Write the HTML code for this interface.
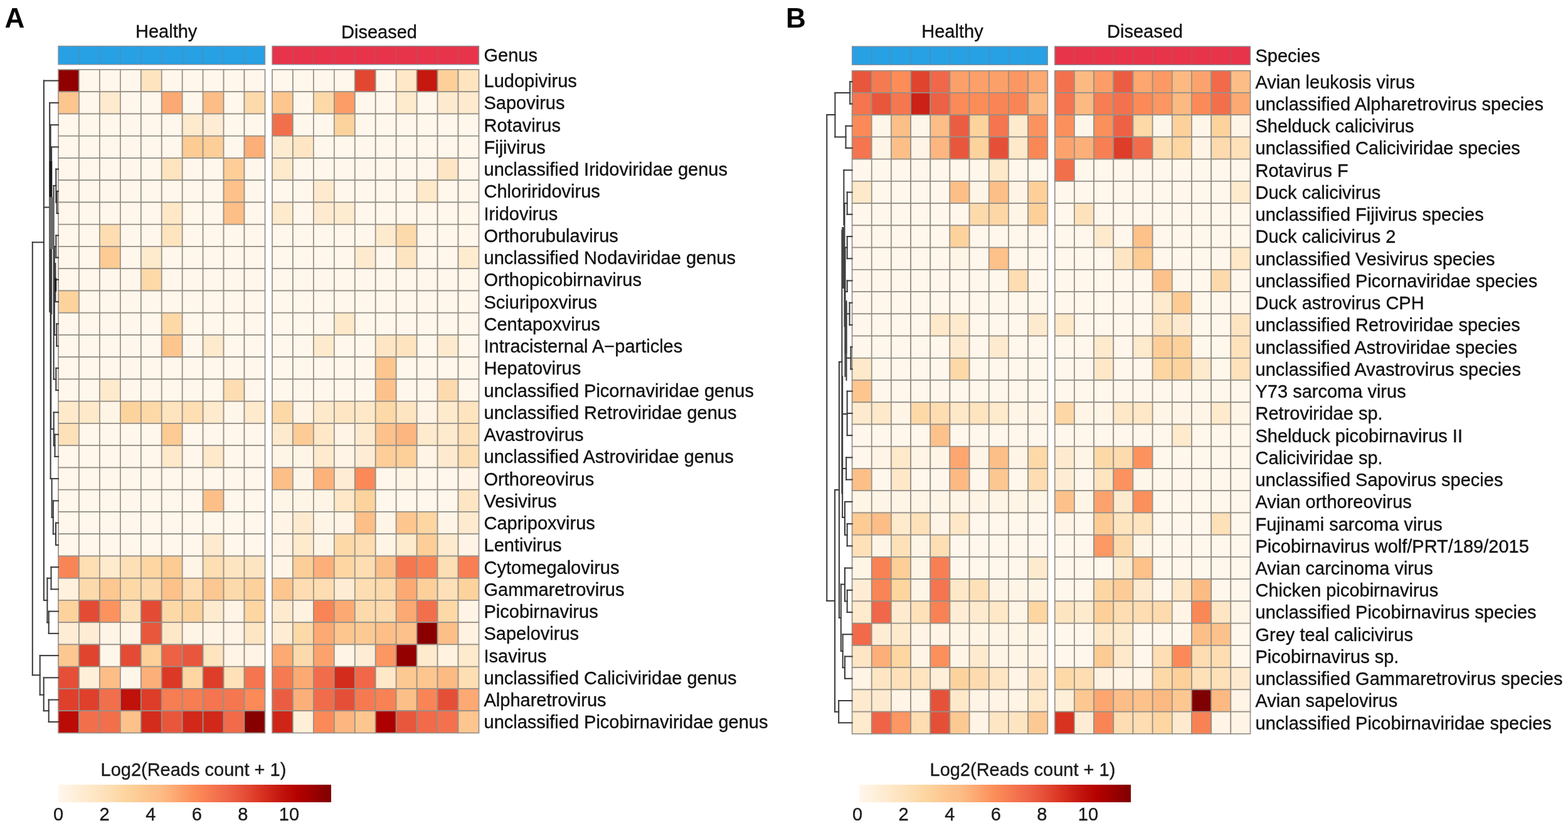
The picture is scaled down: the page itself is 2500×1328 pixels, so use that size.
<!DOCTYPE html>
<html><head><meta charset="utf-8"><title>Heatmaps</title>
<style>html,body{margin:0;padding:0;background:#fff;}svg{display:block;}</style>
</head><body>
<svg width="2500" height="1328" viewBox="0 0 2500 1328">
<rect width="2500" height="1328" fill="#fff"/>
<g stroke="#979088" stroke-width="1.7">
<rect x="93" y="111" width="32.95" height="35.25" fill="#910000"/>
<rect x="125.95" y="111" width="32.95" height="35.25" fill="#fff7ec"/>
<rect x="158.9" y="111" width="32.95" height="35.25" fill="#fff7ec"/>
<rect x="191.85" y="111" width="32.95" height="35.25" fill="#fff7ec"/>
<rect x="224.8" y="111" width="32.95" height="35.25" fill="#fee4bf"/>
<rect x="257.75" y="111" width="32.95" height="35.25" fill="#fff7ec"/>
<rect x="290.7" y="111" width="32.95" height="35.25" fill="#fff7ec"/>
<rect x="323.65" y="111" width="32.95" height="35.25" fill="#fff7ec"/>
<rect x="356.6" y="111" width="32.95" height="35.25" fill="#fff7ec"/>
<rect x="389.55" y="111" width="32.95" height="35.25" fill="#fff7ec"/>
<rect x="434" y="111" width="32.95" height="35.25" fill="#fff7ec"/>
<rect x="466.95" y="111" width="32.95" height="35.25" fill="#fff7ec"/>
<rect x="499.9" y="111" width="32.95" height="35.25" fill="#fff7ec"/>
<rect x="532.85" y="111" width="32.95" height="35.25" fill="#fff7ec"/>
<rect x="565.8" y="111" width="32.95" height="35.25" fill="#e24731"/>
<rect x="598.75" y="111" width="32.95" height="35.25" fill="#fff7ec"/>
<rect x="631.7" y="111" width="32.95" height="35.25" fill="#fee8c7"/>
<rect x="664.65" y="111" width="32.95" height="35.25" fill="#c5180f"/>
<rect x="697.6" y="111" width="32.95" height="35.25" fill="#fdd09a"/>
<rect x="730.55" y="111" width="32.95" height="35.25" fill="#fee4bf"/>
<rect x="93" y="146.25" width="32.95" height="35.25" fill="#fdc68f"/>
<rect x="125.95" y="146.25" width="32.95" height="35.25" fill="#fff7ec"/>
<rect x="158.9" y="146.25" width="32.95" height="35.25" fill="#feebcf"/>
<rect x="191.85" y="146.25" width="32.95" height="35.25" fill="#fff7ec"/>
<rect x="224.8" y="146.25" width="32.95" height="35.25" fill="#fff7ec"/>
<rect x="257.75" y="146.25" width="32.95" height="35.25" fill="#fda973"/>
<rect x="290.7" y="146.25" width="32.95" height="35.25" fill="#fff7ec"/>
<rect x="323.65" y="146.25" width="32.95" height="35.25" fill="#fdbd86"/>
<rect x="356.6" y="146.25" width="32.95" height="35.25" fill="#fff7ec"/>
<rect x="389.55" y="146.25" width="32.95" height="35.25" fill="#fddaab"/>
<rect x="434" y="146.25" width="32.95" height="35.25" fill="#fdc68f"/>
<rect x="466.95" y="146.25" width="32.95" height="35.25" fill="#fff7ec"/>
<rect x="499.9" y="146.25" width="32.95" height="35.25" fill="#fdd9a8"/>
<rect x="532.85" y="146.25" width="32.95" height="35.25" fill="#fc9d68"/>
<rect x="565.8" y="146.25" width="32.95" height="35.25" fill="#fff7ec"/>
<rect x="598.75" y="146.25" width="32.95" height="35.25" fill="#fff7ec"/>
<rect x="631.7" y="146.25" width="32.95" height="35.25" fill="#feeacc"/>
<rect x="664.65" y="146.25" width="32.95" height="35.25" fill="#fff7ec"/>
<rect x="697.6" y="146.25" width="32.95" height="35.25" fill="#feebcf"/>
<rect x="730.55" y="146.25" width="32.95" height="35.25" fill="#feebcf"/>
<rect x="93" y="181.5" width="32.95" height="35.25" fill="#fff7ec"/>
<rect x="125.95" y="181.5" width="32.95" height="35.25" fill="#fff7ec"/>
<rect x="158.9" y="181.5" width="32.95" height="35.25" fill="#fff7ec"/>
<rect x="191.85" y="181.5" width="32.95" height="35.25" fill="#fff7ec"/>
<rect x="224.8" y="181.5" width="32.95" height="35.25" fill="#fff7ec"/>
<rect x="257.75" y="181.5" width="32.95" height="35.25" fill="#fff7ec"/>
<rect x="290.7" y="181.5" width="32.95" height="35.25" fill="#feeacc"/>
<rect x="323.65" y="181.5" width="32.95" height="35.25" fill="#feedd4"/>
<rect x="356.6" y="181.5" width="32.95" height="35.25" fill="#fff7ec"/>
<rect x="389.55" y="181.5" width="32.95" height="35.25" fill="#fff7ec"/>
<rect x="434" y="181.5" width="32.95" height="35.25" fill="#f26f4c"/>
<rect x="466.95" y="181.5" width="32.95" height="35.25" fill="#fff7ec"/>
<rect x="499.9" y="181.5" width="32.95" height="35.25" fill="#fff7ec"/>
<rect x="532.85" y="181.5" width="32.95" height="35.25" fill="#fdd39d"/>
<rect x="565.8" y="181.5" width="32.95" height="35.25" fill="#fff7ec"/>
<rect x="598.75" y="181.5" width="32.95" height="35.25" fill="#fff7ec"/>
<rect x="631.7" y="181.5" width="32.95" height="35.25" fill="#fff7ec"/>
<rect x="664.65" y="181.5" width="32.95" height="35.25" fill="#fff7ec"/>
<rect x="697.6" y="181.5" width="32.95" height="35.25" fill="#fff7ec"/>
<rect x="730.55" y="181.5" width="32.95" height="35.25" fill="#fff7ec"/>
<rect x="93" y="216.75" width="32.95" height="35.25" fill="#fff7ec"/>
<rect x="125.95" y="216.75" width="32.95" height="35.25" fill="#fff7ec"/>
<rect x="158.9" y="216.75" width="32.95" height="35.25" fill="#fff7ec"/>
<rect x="191.85" y="216.75" width="32.95" height="35.25" fill="#fff7ec"/>
<rect x="224.8" y="216.75" width="32.95" height="35.25" fill="#fff7ec"/>
<rect x="257.75" y="216.75" width="32.95" height="35.25" fill="#fff7ec"/>
<rect x="290.7" y="216.75" width="32.95" height="35.25" fill="#fdcb94"/>
<rect x="323.65" y="216.75" width="32.95" height="35.25" fill="#fdce98"/>
<rect x="356.6" y="216.75" width="32.95" height="35.25" fill="#fff7ec"/>
<rect x="389.55" y="216.75" width="32.95" height="35.25" fill="#fdaf79"/>
<rect x="434" y="216.75" width="32.95" height="35.25" fill="#feecd1"/>
<rect x="466.95" y="216.75" width="32.95" height="35.25" fill="#fee6c4"/>
<rect x="499.9" y="216.75" width="32.95" height="35.25" fill="#fff7ec"/>
<rect x="532.85" y="216.75" width="32.95" height="35.25" fill="#fff7ec"/>
<rect x="565.8" y="216.75" width="32.95" height="35.25" fill="#fff7ec"/>
<rect x="598.75" y="216.75" width="32.95" height="35.25" fill="#fff7ec"/>
<rect x="631.7" y="216.75" width="32.95" height="35.25" fill="#fff7ec"/>
<rect x="664.65" y="216.75" width="32.95" height="35.25" fill="#fff7ec"/>
<rect x="697.6" y="216.75" width="32.95" height="35.25" fill="#fff7ec"/>
<rect x="730.55" y="216.75" width="32.95" height="35.25" fill="#fff7ec"/>
<rect x="93" y="252" width="32.95" height="35.25" fill="#fff7ec"/>
<rect x="125.95" y="252" width="32.95" height="35.25" fill="#fff7ec"/>
<rect x="158.9" y="252" width="32.95" height="35.25" fill="#fff7ec"/>
<rect x="191.85" y="252" width="32.95" height="35.25" fill="#fff7ec"/>
<rect x="224.8" y="252" width="32.95" height="35.25" fill="#fff7ec"/>
<rect x="257.75" y="252" width="32.95" height="35.25" fill="#fee4bf"/>
<rect x="290.7" y="252" width="32.95" height="35.25" fill="#fff7ec"/>
<rect x="323.65" y="252" width="32.95" height="35.25" fill="#fff7ec"/>
<rect x="356.6" y="252" width="32.95" height="35.25" fill="#fdce98"/>
<rect x="389.55" y="252" width="32.95" height="35.25" fill="#fff7ec"/>
<rect x="434" y="252" width="32.95" height="35.25" fill="#feeacc"/>
<rect x="466.95" y="252" width="32.95" height="35.25" fill="#fff7ec"/>
<rect x="499.9" y="252" width="32.95" height="35.25" fill="#fff7ec"/>
<rect x="532.85" y="252" width="32.95" height="35.25" fill="#fff7ec"/>
<rect x="565.8" y="252" width="32.95" height="35.25" fill="#fff7ec"/>
<rect x="598.75" y="252" width="32.95" height="35.25" fill="#fff7ec"/>
<rect x="631.7" y="252" width="32.95" height="35.25" fill="#fff7ec"/>
<rect x="664.65" y="252" width="32.95" height="35.25" fill="#fff7ec"/>
<rect x="697.6" y="252" width="32.95" height="35.25" fill="#fee6c4"/>
<rect x="730.55" y="252" width="32.95" height="35.25" fill="#fff7ec"/>
<rect x="93" y="287.25" width="32.95" height="35.25" fill="#fff7ec"/>
<rect x="125.95" y="287.25" width="32.95" height="35.25" fill="#fff7ec"/>
<rect x="158.9" y="287.25" width="32.95" height="35.25" fill="#fff7ec"/>
<rect x="191.85" y="287.25" width="32.95" height="35.25" fill="#fff7ec"/>
<rect x="224.8" y="287.25" width="32.95" height="35.25" fill="#fff7ec"/>
<rect x="257.75" y="287.25" width="32.95" height="35.25" fill="#fff7ec"/>
<rect x="290.7" y="287.25" width="32.95" height="35.25" fill="#fff7ec"/>
<rect x="323.65" y="287.25" width="32.95" height="35.25" fill="#fff7ec"/>
<rect x="356.6" y="287.25" width="32.95" height="35.25" fill="#fdc28b"/>
<rect x="389.55" y="287.25" width="32.95" height="35.25" fill="#fff7ec"/>
<rect x="434" y="287.25" width="32.95" height="35.25" fill="#fff7ec"/>
<rect x="466.95" y="287.25" width="32.95" height="35.25" fill="#fff7ec"/>
<rect x="499.9" y="287.25" width="32.95" height="35.25" fill="#feebcf"/>
<rect x="532.85" y="287.25" width="32.95" height="35.25" fill="#fff7ec"/>
<rect x="565.8" y="287.25" width="32.95" height="35.25" fill="#fff7ec"/>
<rect x="598.75" y="287.25" width="32.95" height="35.25" fill="#fff7ec"/>
<rect x="631.7" y="287.25" width="32.95" height="35.25" fill="#fff7ec"/>
<rect x="664.65" y="287.25" width="32.95" height="35.25" fill="#fee9ca"/>
<rect x="697.6" y="287.25" width="32.95" height="35.25" fill="#fff7ec"/>
<rect x="730.55" y="287.25" width="32.95" height="35.25" fill="#fff7ec"/>
<rect x="93" y="322.5" width="32.95" height="35.25" fill="#fff7ec"/>
<rect x="125.95" y="322.5" width="32.95" height="35.25" fill="#fff7ec"/>
<rect x="158.9" y="322.5" width="32.95" height="35.25" fill="#fff7ec"/>
<rect x="191.85" y="322.5" width="32.95" height="35.25" fill="#fff7ec"/>
<rect x="224.8" y="322.5" width="32.95" height="35.25" fill="#fff7ec"/>
<rect x="257.75" y="322.5" width="32.95" height="35.25" fill="#fee8c7"/>
<rect x="290.7" y="322.5" width="32.95" height="35.25" fill="#fff7ec"/>
<rect x="323.65" y="322.5" width="32.95" height="35.25" fill="#fff7ec"/>
<rect x="356.6" y="322.5" width="32.95" height="35.25" fill="#fdbf88"/>
<rect x="389.55" y="322.5" width="32.95" height="35.25" fill="#fff7ec"/>
<rect x="434" y="322.5" width="32.95" height="35.25" fill="#feeacc"/>
<rect x="466.95" y="322.5" width="32.95" height="35.25" fill="#fff7ec"/>
<rect x="499.9" y="322.5" width="32.95" height="35.25" fill="#feebcf"/>
<rect x="532.85" y="322.5" width="32.95" height="35.25" fill="#feecd1"/>
<rect x="565.8" y="322.5" width="32.95" height="35.25" fill="#fff7ec"/>
<rect x="598.75" y="322.5" width="32.95" height="35.25" fill="#fff7ec"/>
<rect x="631.7" y="322.5" width="32.95" height="35.25" fill="#fff7ec"/>
<rect x="664.65" y="322.5" width="32.95" height="35.25" fill="#fff7ec"/>
<rect x="697.6" y="322.5" width="32.95" height="35.25" fill="#fff7ec"/>
<rect x="730.55" y="322.5" width="32.95" height="35.25" fill="#fff7ec"/>
<rect x="93" y="357.75" width="32.95" height="35.25" fill="#fff7ec"/>
<rect x="125.95" y="357.75" width="32.95" height="35.25" fill="#fff7ec"/>
<rect x="158.9" y="357.75" width="32.95" height="35.25" fill="#fdddb1"/>
<rect x="191.85" y="357.75" width="32.95" height="35.25" fill="#fff7ec"/>
<rect x="224.8" y="357.75" width="32.95" height="35.25" fill="#fff7ec"/>
<rect x="257.75" y="357.75" width="32.95" height="35.25" fill="#fee4bf"/>
<rect x="290.7" y="357.75" width="32.95" height="35.25" fill="#fff7ec"/>
<rect x="323.65" y="357.75" width="32.95" height="35.25" fill="#fff7ec"/>
<rect x="356.6" y="357.75" width="32.95" height="35.25" fill="#fff7ec"/>
<rect x="389.55" y="357.75" width="32.95" height="35.25" fill="#fff7ec"/>
<rect x="434" y="357.75" width="32.95" height="35.25" fill="#fff7ec"/>
<rect x="466.95" y="357.75" width="32.95" height="35.25" fill="#fff7ec"/>
<rect x="499.9" y="357.75" width="32.95" height="35.25" fill="#fff7ec"/>
<rect x="532.85" y="357.75" width="32.95" height="35.25" fill="#fff7ec"/>
<rect x="565.8" y="357.75" width="32.95" height="35.25" fill="#fff7ec"/>
<rect x="598.75" y="357.75" width="32.95" height="35.25" fill="#feebcf"/>
<rect x="631.7" y="357.75" width="32.95" height="35.25" fill="#fddaab"/>
<rect x="664.65" y="357.75" width="32.95" height="35.25" fill="#fff7ec"/>
<rect x="697.6" y="357.75" width="32.95" height="35.25" fill="#fff7ec"/>
<rect x="730.55" y="357.75" width="32.95" height="35.25" fill="#fff7ec"/>
<rect x="93" y="393" width="32.95" height="35.25" fill="#fff7ec"/>
<rect x="125.95" y="393" width="32.95" height="35.25" fill="#fff7ec"/>
<rect x="158.9" y="393" width="32.95" height="35.25" fill="#fdcb94"/>
<rect x="191.85" y="393" width="32.95" height="35.25" fill="#fff7ec"/>
<rect x="224.8" y="393" width="32.95" height="35.25" fill="#feeacc"/>
<rect x="257.75" y="393" width="32.95" height="35.25" fill="#fff7ec"/>
<rect x="290.7" y="393" width="32.95" height="35.25" fill="#fff7ec"/>
<rect x="323.65" y="393" width="32.95" height="35.25" fill="#fff7ec"/>
<rect x="356.6" y="393" width="32.95" height="35.25" fill="#fff7ec"/>
<rect x="389.55" y="393" width="32.95" height="35.25" fill="#fff7ec"/>
<rect x="434" y="393" width="32.95" height="35.25" fill="#fff7ec"/>
<rect x="466.95" y="393" width="32.95" height="35.25" fill="#fff7ec"/>
<rect x="499.9" y="393" width="32.95" height="35.25" fill="#fff7ec"/>
<rect x="532.85" y="393" width="32.95" height="35.25" fill="#fff7ec"/>
<rect x="565.8" y="393" width="32.95" height="35.25" fill="#feebcf"/>
<rect x="598.75" y="393" width="32.95" height="35.25" fill="#fff7ec"/>
<rect x="631.7" y="393" width="32.95" height="35.25" fill="#fee5c2"/>
<rect x="664.65" y="393" width="32.95" height="35.25" fill="#fff7ec"/>
<rect x="697.6" y="393" width="32.95" height="35.25" fill="#fff7ec"/>
<rect x="730.55" y="393" width="32.95" height="35.25" fill="#feecd1"/>
<rect x="93" y="428.25" width="32.95" height="35.25" fill="#fff7ec"/>
<rect x="125.95" y="428.25" width="32.95" height="35.25" fill="#fff7ec"/>
<rect x="158.9" y="428.25" width="32.95" height="35.25" fill="#fff7ec"/>
<rect x="191.85" y="428.25" width="32.95" height="35.25" fill="#fff7ec"/>
<rect x="224.8" y="428.25" width="32.95" height="35.25" fill="#fdd9a8"/>
<rect x="257.75" y="428.25" width="32.95" height="35.25" fill="#fff7ec"/>
<rect x="290.7" y="428.25" width="32.95" height="35.25" fill="#fff7ec"/>
<rect x="323.65" y="428.25" width="32.95" height="35.25" fill="#fff7ec"/>
<rect x="356.6" y="428.25" width="32.95" height="35.25" fill="#fff7ec"/>
<rect x="389.55" y="428.25" width="32.95" height="35.25" fill="#fff7ec"/>
<rect x="434" y="428.25" width="32.95" height="35.25" fill="#fff7ec"/>
<rect x="466.95" y="428.25" width="32.95" height="35.25" fill="#fff7ec"/>
<rect x="499.9" y="428.25" width="32.95" height="35.25" fill="#fff7ec"/>
<rect x="532.85" y="428.25" width="32.95" height="35.25" fill="#fff7ec"/>
<rect x="565.8" y="428.25" width="32.95" height="35.25" fill="#fff7ec"/>
<rect x="598.75" y="428.25" width="32.95" height="35.25" fill="#fff7ec"/>
<rect x="631.7" y="428.25" width="32.95" height="35.25" fill="#fff7ec"/>
<rect x="664.65" y="428.25" width="32.95" height="35.25" fill="#fff7ec"/>
<rect x="697.6" y="428.25" width="32.95" height="35.25" fill="#fff7ec"/>
<rect x="730.55" y="428.25" width="32.95" height="35.25" fill="#fff7ec"/>
<rect x="93" y="463.5" width="32.95" height="35.25" fill="#fdd39d"/>
<rect x="125.95" y="463.5" width="32.95" height="35.25" fill="#fff7ec"/>
<rect x="158.9" y="463.5" width="32.95" height="35.25" fill="#fff7ec"/>
<rect x="191.85" y="463.5" width="32.95" height="35.25" fill="#fff7ec"/>
<rect x="224.8" y="463.5" width="32.95" height="35.25" fill="#fff7ec"/>
<rect x="257.75" y="463.5" width="32.95" height="35.25" fill="#fff7ec"/>
<rect x="290.7" y="463.5" width="32.95" height="35.25" fill="#fff7ec"/>
<rect x="323.65" y="463.5" width="32.95" height="35.25" fill="#fff7ec"/>
<rect x="356.6" y="463.5" width="32.95" height="35.25" fill="#fff7ec"/>
<rect x="389.55" y="463.5" width="32.95" height="35.25" fill="#fff7ec"/>
<rect x="434" y="463.5" width="32.95" height="35.25" fill="#fff7ec"/>
<rect x="466.95" y="463.5" width="32.95" height="35.25" fill="#fff7ec"/>
<rect x="499.9" y="463.5" width="32.95" height="35.25" fill="#fff7ec"/>
<rect x="532.85" y="463.5" width="32.95" height="35.25" fill="#fff7ec"/>
<rect x="565.8" y="463.5" width="32.95" height="35.25" fill="#fff7ec"/>
<rect x="598.75" y="463.5" width="32.95" height="35.25" fill="#fff7ec"/>
<rect x="631.7" y="463.5" width="32.95" height="35.25" fill="#fff7ec"/>
<rect x="664.65" y="463.5" width="32.95" height="35.25" fill="#fff7ec"/>
<rect x="697.6" y="463.5" width="32.95" height="35.25" fill="#fff7ec"/>
<rect x="730.55" y="463.5" width="32.95" height="35.25" fill="#fff7ec"/>
<rect x="93" y="498.75" width="32.95" height="35.25" fill="#fff7ec"/>
<rect x="125.95" y="498.75" width="32.95" height="35.25" fill="#fff7ec"/>
<rect x="158.9" y="498.75" width="32.95" height="35.25" fill="#fff7ec"/>
<rect x="191.85" y="498.75" width="32.95" height="35.25" fill="#fff7ec"/>
<rect x="224.8" y="498.75" width="32.95" height="35.25" fill="#fff7ec"/>
<rect x="257.75" y="498.75" width="32.95" height="35.25" fill="#fdd9a8"/>
<rect x="290.7" y="498.75" width="32.95" height="35.25" fill="#fff7ec"/>
<rect x="323.65" y="498.75" width="32.95" height="35.25" fill="#fff7ec"/>
<rect x="356.6" y="498.75" width="32.95" height="35.25" fill="#fff7ec"/>
<rect x="389.55" y="498.75" width="32.95" height="35.25" fill="#fff7ec"/>
<rect x="434" y="498.75" width="32.95" height="35.25" fill="#fff7ec"/>
<rect x="466.95" y="498.75" width="32.95" height="35.25" fill="#fff7ec"/>
<rect x="499.9" y="498.75" width="32.95" height="35.25" fill="#fff7ec"/>
<rect x="532.85" y="498.75" width="32.95" height="35.25" fill="#fee9ca"/>
<rect x="565.8" y="498.75" width="32.95" height="35.25" fill="#fff7ec"/>
<rect x="598.75" y="498.75" width="32.95" height="35.25" fill="#fff7ec"/>
<rect x="631.7" y="498.75" width="32.95" height="35.25" fill="#fff7ec"/>
<rect x="664.65" y="498.75" width="32.95" height="35.25" fill="#fff7ec"/>
<rect x="697.6" y="498.75" width="32.95" height="35.25" fill="#fff7ec"/>
<rect x="730.55" y="498.75" width="32.95" height="35.25" fill="#fff7ec"/>
<rect x="93" y="534" width="32.95" height="35.25" fill="#fff7ec"/>
<rect x="125.95" y="534" width="32.95" height="35.25" fill="#fff7ec"/>
<rect x="158.9" y="534" width="32.95" height="35.25" fill="#fff7ec"/>
<rect x="191.85" y="534" width="32.95" height="35.25" fill="#fff7ec"/>
<rect x="224.8" y="534" width="32.95" height="35.25" fill="#fff7ec"/>
<rect x="257.75" y="534" width="32.95" height="35.25" fill="#fdc68f"/>
<rect x="290.7" y="534" width="32.95" height="35.25" fill="#fff7ec"/>
<rect x="323.65" y="534" width="32.95" height="35.25" fill="#feeacc"/>
<rect x="356.6" y="534" width="32.95" height="35.25" fill="#fff7ec"/>
<rect x="389.55" y="534" width="32.95" height="35.25" fill="#fff7ec"/>
<rect x="434" y="534" width="32.95" height="35.25" fill="#fff7ec"/>
<rect x="466.95" y="534" width="32.95" height="35.25" fill="#fff7ec"/>
<rect x="499.9" y="534" width="32.95" height="35.25" fill="#feeacc"/>
<rect x="532.85" y="534" width="32.95" height="35.25" fill="#fff7ec"/>
<rect x="565.8" y="534" width="32.95" height="35.25" fill="#fff7ec"/>
<rect x="598.75" y="534" width="32.95" height="35.25" fill="#fee6c4"/>
<rect x="631.7" y="534" width="32.95" height="35.25" fill="#fee4bf"/>
<rect x="664.65" y="534" width="32.95" height="35.25" fill="#fff7ec"/>
<rect x="697.6" y="534" width="32.95" height="35.25" fill="#feebcf"/>
<rect x="730.55" y="534" width="32.95" height="35.25" fill="#fff7ec"/>
<rect x="93" y="569.25" width="32.95" height="35.25" fill="#fff7ec"/>
<rect x="125.95" y="569.25" width="32.95" height="35.25" fill="#fff7ec"/>
<rect x="158.9" y="569.25" width="32.95" height="35.25" fill="#fff7ec"/>
<rect x="191.85" y="569.25" width="32.95" height="35.25" fill="#fff7ec"/>
<rect x="224.8" y="569.25" width="32.95" height="35.25" fill="#fff7ec"/>
<rect x="257.75" y="569.25" width="32.95" height="35.25" fill="#fff7ec"/>
<rect x="290.7" y="569.25" width="32.95" height="35.25" fill="#fff7ec"/>
<rect x="323.65" y="569.25" width="32.95" height="35.25" fill="#fff7ec"/>
<rect x="356.6" y="569.25" width="32.95" height="35.25" fill="#fff7ec"/>
<rect x="389.55" y="569.25" width="32.95" height="35.25" fill="#fff7ec"/>
<rect x="434" y="569.25" width="32.95" height="35.25" fill="#fff7ec"/>
<rect x="466.95" y="569.25" width="32.95" height="35.25" fill="#fff7ec"/>
<rect x="499.9" y="569.25" width="32.95" height="35.25" fill="#fff7ec"/>
<rect x="532.85" y="569.25" width="32.95" height="35.25" fill="#fff7ec"/>
<rect x="565.8" y="569.25" width="32.95" height="35.25" fill="#fff7ec"/>
<rect x="598.75" y="569.25" width="32.95" height="35.25" fill="#fdc68f"/>
<rect x="631.7" y="569.25" width="32.95" height="35.25" fill="#fff7ec"/>
<rect x="664.65" y="569.25" width="32.95" height="35.25" fill="#fff7ec"/>
<rect x="697.6" y="569.25" width="32.95" height="35.25" fill="#fff7ec"/>
<rect x="730.55" y="569.25" width="32.95" height="35.25" fill="#fff7ec"/>
<rect x="93" y="604.5" width="32.95" height="35.25" fill="#fff7ec"/>
<rect x="125.95" y="604.5" width="32.95" height="35.25" fill="#fff7ec"/>
<rect x="158.9" y="604.5" width="32.95" height="35.25" fill="#feeacc"/>
<rect x="191.85" y="604.5" width="32.95" height="35.25" fill="#fff7ec"/>
<rect x="224.8" y="604.5" width="32.95" height="35.25" fill="#fff7ec"/>
<rect x="257.75" y="604.5" width="32.95" height="35.25" fill="#fff7ec"/>
<rect x="290.7" y="604.5" width="32.95" height="35.25" fill="#fff7ec"/>
<rect x="323.65" y="604.5" width="32.95" height="35.25" fill="#fff7ec"/>
<rect x="356.6" y="604.5" width="32.95" height="35.25" fill="#fdddb1"/>
<rect x="389.55" y="604.5" width="32.95" height="35.25" fill="#fff7ec"/>
<rect x="434" y="604.5" width="32.95" height="35.25" fill="#fff7ec"/>
<rect x="466.95" y="604.5" width="32.95" height="35.25" fill="#fff7ec"/>
<rect x="499.9" y="604.5" width="32.95" height="35.25" fill="#fff7ec"/>
<rect x="532.85" y="604.5" width="32.95" height="35.25" fill="#fff7ec"/>
<rect x="565.8" y="604.5" width="32.95" height="35.25" fill="#fff7ec"/>
<rect x="598.75" y="604.5" width="32.95" height="35.25" fill="#fdc28b"/>
<rect x="631.7" y="604.5" width="32.95" height="35.25" fill="#fff7ec"/>
<rect x="664.65" y="604.5" width="32.95" height="35.25" fill="#fff7ec"/>
<rect x="697.6" y="604.5" width="32.95" height="35.25" fill="#fddbae"/>
<rect x="730.55" y="604.5" width="32.95" height="35.25" fill="#fff7ec"/>
<rect x="93" y="639.75" width="32.95" height="35.25" fill="#fee9ca"/>
<rect x="125.95" y="639.75" width="32.95" height="35.25" fill="#fee9ca"/>
<rect x="158.9" y="639.75" width="32.95" height="35.25" fill="#fff5e7"/>
<rect x="191.85" y="639.75" width="32.95" height="35.25" fill="#fdd39d"/>
<rect x="224.8" y="639.75" width="32.95" height="35.25" fill="#fdd9a8"/>
<rect x="257.75" y="639.75" width="32.95" height="35.25" fill="#fee4bf"/>
<rect x="290.7" y="639.75" width="32.95" height="35.25" fill="#fedeb3"/>
<rect x="323.65" y="639.75" width="32.95" height="35.25" fill="#feeacc"/>
<rect x="356.6" y="639.75" width="32.95" height="35.25" fill="#fff6ea"/>
<rect x="389.55" y="639.75" width="32.95" height="35.25" fill="#feeacc"/>
<rect x="434" y="639.75" width="32.95" height="35.25" fill="#fdd9a8"/>
<rect x="466.95" y="639.75" width="32.95" height="35.25" fill="#fff4e5"/>
<rect x="499.9" y="639.75" width="32.95" height="35.25" fill="#fee9ca"/>
<rect x="532.85" y="639.75" width="32.95" height="35.25" fill="#fee6c4"/>
<rect x="565.8" y="639.75" width="32.95" height="35.25" fill="#fee8c7"/>
<rect x="598.75" y="639.75" width="32.95" height="35.25" fill="#fdd9a8"/>
<rect x="631.7" y="639.75" width="32.95" height="35.25" fill="#fee5c2"/>
<rect x="664.65" y="639.75" width="32.95" height="35.25" fill="#fff4e5"/>
<rect x="697.6" y="639.75" width="32.95" height="35.25" fill="#feeacc"/>
<rect x="730.55" y="639.75" width="32.95" height="35.25" fill="#fee4bf"/>
<rect x="93" y="675" width="32.95" height="35.25" fill="#fee1b9"/>
<rect x="125.95" y="675" width="32.95" height="35.25" fill="#fff7ec"/>
<rect x="158.9" y="675" width="32.95" height="35.25" fill="#fff7ec"/>
<rect x="191.85" y="675" width="32.95" height="35.25" fill="#fff7ec"/>
<rect x="224.8" y="675" width="32.95" height="35.25" fill="#fff7ec"/>
<rect x="257.75" y="675" width="32.95" height="35.25" fill="#fdcb94"/>
<rect x="290.7" y="675" width="32.95" height="35.25" fill="#fff7ec"/>
<rect x="323.65" y="675" width="32.95" height="35.25" fill="#fff7ec"/>
<rect x="356.6" y="675" width="32.95" height="35.25" fill="#fff7ec"/>
<rect x="389.55" y="675" width="32.95" height="35.25" fill="#fff7ec"/>
<rect x="434" y="675" width="32.95" height="35.25" fill="#feebcf"/>
<rect x="466.95" y="675" width="32.95" height="35.25" fill="#fdcc96"/>
<rect x="499.9" y="675" width="32.95" height="35.25" fill="#fee8c7"/>
<rect x="532.85" y="675" width="32.95" height="35.25" fill="#fff4e5"/>
<rect x="565.8" y="675" width="32.95" height="35.25" fill="#feebcf"/>
<rect x="598.75" y="675" width="32.95" height="35.25" fill="#fdc28b"/>
<rect x="631.7" y="675" width="32.95" height="35.25" fill="#fdb67f"/>
<rect x="664.65" y="675" width="32.95" height="35.25" fill="#feeacc"/>
<rect x="697.6" y="675" width="32.95" height="35.25" fill="#feeacc"/>
<rect x="730.55" y="675" width="32.95" height="35.25" fill="#fee1b9"/>
<rect x="93" y="710.25" width="32.95" height="35.25" fill="#fff7ec"/>
<rect x="125.95" y="710.25" width="32.95" height="35.25" fill="#fff7ec"/>
<rect x="158.9" y="710.25" width="32.95" height="35.25" fill="#fff7ec"/>
<rect x="191.85" y="710.25" width="32.95" height="35.25" fill="#fff7ec"/>
<rect x="224.8" y="710.25" width="32.95" height="35.25" fill="#fff7ec"/>
<rect x="257.75" y="710.25" width="32.95" height="35.25" fill="#fee9ca"/>
<rect x="290.7" y="710.25" width="32.95" height="35.25" fill="#fff7ec"/>
<rect x="323.65" y="710.25" width="32.95" height="35.25" fill="#fee9ca"/>
<rect x="356.6" y="710.25" width="32.95" height="35.25" fill="#fff7ec"/>
<rect x="389.55" y="710.25" width="32.95" height="35.25" fill="#fff7ec"/>
<rect x="434" y="710.25" width="32.95" height="35.25" fill="#fff5e7"/>
<rect x="466.95" y="710.25" width="32.95" height="35.25" fill="#fff5e7"/>
<rect x="499.9" y="710.25" width="32.95" height="35.25" fill="#feeacc"/>
<rect x="532.85" y="710.25" width="32.95" height="35.25" fill="#fff4e5"/>
<rect x="565.8" y="710.25" width="32.95" height="35.25" fill="#feedd4"/>
<rect x="598.75" y="710.25" width="32.95" height="35.25" fill="#fdce98"/>
<rect x="631.7" y="710.25" width="32.95" height="35.25" fill="#fdd09a"/>
<rect x="664.65" y="710.25" width="32.95" height="35.25" fill="#fff4e5"/>
<rect x="697.6" y="710.25" width="32.95" height="35.25" fill="#feebcf"/>
<rect x="730.55" y="710.25" width="32.95" height="35.25" fill="#fedeb3"/>
<rect x="93" y="745.5" width="32.95" height="35.25" fill="#fff7ec"/>
<rect x="125.95" y="745.5" width="32.95" height="35.25" fill="#fff7ec"/>
<rect x="158.9" y="745.5" width="32.95" height="35.25" fill="#fff7ec"/>
<rect x="191.85" y="745.5" width="32.95" height="35.25" fill="#fff7ec"/>
<rect x="224.8" y="745.5" width="32.95" height="35.25" fill="#fff7ec"/>
<rect x="257.75" y="745.5" width="32.95" height="35.25" fill="#fff7ec"/>
<rect x="290.7" y="745.5" width="32.95" height="35.25" fill="#fff7ec"/>
<rect x="323.65" y="745.5" width="32.95" height="35.25" fill="#fff7ec"/>
<rect x="356.6" y="745.5" width="32.95" height="35.25" fill="#fff7ec"/>
<rect x="389.55" y="745.5" width="32.95" height="35.25" fill="#fff7ec"/>
<rect x="434" y="745.5" width="32.95" height="35.25" fill="#fdbf88"/>
<rect x="466.95" y="745.5" width="32.95" height="35.25" fill="#fff5e7"/>
<rect x="499.9" y="745.5" width="32.95" height="35.25" fill="#fdb27c"/>
<rect x="532.85" y="745.5" width="32.95" height="35.25" fill="#feedd4"/>
<rect x="565.8" y="745.5" width="32.95" height="35.25" fill="#fb8a58"/>
<rect x="598.75" y="745.5" width="32.95" height="35.25" fill="#fff7ec"/>
<rect x="631.7" y="745.5" width="32.95" height="35.25" fill="#fff5e7"/>
<rect x="664.65" y="745.5" width="32.95" height="35.25" fill="#fff7ec"/>
<rect x="697.6" y="745.5" width="32.95" height="35.25" fill="#fff7ec"/>
<rect x="730.55" y="745.5" width="32.95" height="35.25" fill="#fff4e5"/>
<rect x="93" y="780.75" width="32.95" height="35.25" fill="#fff7ec"/>
<rect x="125.95" y="780.75" width="32.95" height="35.25" fill="#fff7ec"/>
<rect x="158.9" y="780.75" width="32.95" height="35.25" fill="#fff7ec"/>
<rect x="191.85" y="780.75" width="32.95" height="35.25" fill="#fff7ec"/>
<rect x="224.8" y="780.75" width="32.95" height="35.25" fill="#fff7ec"/>
<rect x="257.75" y="780.75" width="32.95" height="35.25" fill="#fff7ec"/>
<rect x="290.7" y="780.75" width="32.95" height="35.25" fill="#fff7ec"/>
<rect x="323.65" y="780.75" width="32.95" height="35.25" fill="#fdbf88"/>
<rect x="356.6" y="780.75" width="32.95" height="35.25" fill="#fff7ec"/>
<rect x="389.55" y="780.75" width="32.95" height="35.25" fill="#fff7ec"/>
<rect x="434" y="780.75" width="32.95" height="35.25" fill="#fff5e7"/>
<rect x="466.95" y="780.75" width="32.95" height="35.25" fill="#fff5e7"/>
<rect x="499.9" y="780.75" width="32.95" height="35.25" fill="#fff5e7"/>
<rect x="532.85" y="780.75" width="32.95" height="35.25" fill="#fee8c7"/>
<rect x="565.8" y="780.75" width="32.95" height="35.25" fill="#fdd39d"/>
<rect x="598.75" y="780.75" width="32.95" height="35.25" fill="#fff7ec"/>
<rect x="631.7" y="780.75" width="32.95" height="35.25" fill="#fff7ec"/>
<rect x="664.65" y="780.75" width="32.95" height="35.25" fill="#fff7ec"/>
<rect x="697.6" y="780.75" width="32.95" height="35.25" fill="#fff7ec"/>
<rect x="730.55" y="780.75" width="32.95" height="35.25" fill="#fee6c4"/>
<rect x="93" y="816" width="32.95" height="35.25" fill="#fff7ec"/>
<rect x="125.95" y="816" width="32.95" height="35.25" fill="#fff7ec"/>
<rect x="158.9" y="816" width="32.95" height="35.25" fill="#fff7ec"/>
<rect x="191.85" y="816" width="32.95" height="35.25" fill="#fff7ec"/>
<rect x="224.8" y="816" width="32.95" height="35.25" fill="#fff7ec"/>
<rect x="257.75" y="816" width="32.95" height="35.25" fill="#fff7ec"/>
<rect x="290.7" y="816" width="32.95" height="35.25" fill="#fff7ec"/>
<rect x="323.65" y="816" width="32.95" height="35.25" fill="#fff7ec"/>
<rect x="356.6" y="816" width="32.95" height="35.25" fill="#fff7ec"/>
<rect x="389.55" y="816" width="32.95" height="35.25" fill="#fff7ec"/>
<rect x="434" y="816" width="32.95" height="35.25" fill="#fff4e5"/>
<rect x="466.95" y="816" width="32.95" height="35.25" fill="#feebcf"/>
<rect x="499.9" y="816" width="32.95" height="35.25" fill="#fff5e7"/>
<rect x="532.85" y="816" width="32.95" height="35.25" fill="#fff4e5"/>
<rect x="565.8" y="816" width="32.95" height="35.25" fill="#fdbf88"/>
<rect x="598.75" y="816" width="32.95" height="35.25" fill="#fff5e7"/>
<rect x="631.7" y="816" width="32.95" height="35.25" fill="#fdc68f"/>
<rect x="664.65" y="816" width="32.95" height="35.25" fill="#fdd6a2"/>
<rect x="697.6" y="816" width="32.95" height="35.25" fill="#fff5e7"/>
<rect x="730.55" y="816" width="32.95" height="35.25" fill="#feebcf"/>
<rect x="93" y="851.25" width="32.95" height="35.25" fill="#fff7ec"/>
<rect x="125.95" y="851.25" width="32.95" height="35.25" fill="#fff7ec"/>
<rect x="158.9" y="851.25" width="32.95" height="35.25" fill="#fff7ec"/>
<rect x="191.85" y="851.25" width="32.95" height="35.25" fill="#fff7ec"/>
<rect x="224.8" y="851.25" width="32.95" height="35.25" fill="#fff7ec"/>
<rect x="257.75" y="851.25" width="32.95" height="35.25" fill="#fff7ec"/>
<rect x="290.7" y="851.25" width="32.95" height="35.25" fill="#fff7ec"/>
<rect x="323.65" y="851.25" width="32.95" height="35.25" fill="#feebcf"/>
<rect x="356.6" y="851.25" width="32.95" height="35.25" fill="#fff7ec"/>
<rect x="389.55" y="851.25" width="32.95" height="35.25" fill="#fff7ec"/>
<rect x="434" y="851.25" width="32.95" height="35.25" fill="#fff4e5"/>
<rect x="466.95" y="851.25" width="32.95" height="35.25" fill="#feeacc"/>
<rect x="499.9" y="851.25" width="32.95" height="35.25" fill="#fff5e7"/>
<rect x="532.85" y="851.25" width="32.95" height="35.25" fill="#fdd9a8"/>
<rect x="565.8" y="851.25" width="32.95" height="35.25" fill="#fdddb1"/>
<rect x="598.75" y="851.25" width="32.95" height="35.25" fill="#fff5e7"/>
<rect x="631.7" y="851.25" width="32.95" height="35.25" fill="#feeacc"/>
<rect x="664.65" y="851.25" width="32.95" height="35.25" fill="#fdce98"/>
<rect x="697.6" y="851.25" width="32.95" height="35.25" fill="#feebcf"/>
<rect x="730.55" y="851.25" width="32.95" height="35.25" fill="#fff4e5"/>
<rect x="93" y="886.5" width="32.95" height="35.25" fill="#f98556"/>
<rect x="125.95" y="886.5" width="32.95" height="35.25" fill="#fedeb3"/>
<rect x="158.9" y="886.5" width="32.95" height="35.25" fill="#feeacc"/>
<rect x="191.85" y="886.5" width="32.95" height="35.25" fill="#fee0b6"/>
<rect x="224.8" y="886.5" width="32.95" height="35.25" fill="#fdd6a2"/>
<rect x="257.75" y="886.5" width="32.95" height="35.25" fill="#fdcb94"/>
<rect x="290.7" y="886.5" width="32.95" height="35.25" fill="#fff5e7"/>
<rect x="323.65" y="886.5" width="32.95" height="35.25" fill="#fedeb3"/>
<rect x="356.6" y="886.5" width="32.95" height="35.25" fill="#fee5c2"/>
<rect x="389.55" y="886.5" width="32.95" height="35.25" fill="#fee5c2"/>
<rect x="434" y="886.5" width="32.95" height="35.25" fill="#fff4e5"/>
<rect x="466.95" y="886.5" width="32.95" height="35.25" fill="#fdce98"/>
<rect x="499.9" y="886.5" width="32.95" height="35.25" fill="#fdaf79"/>
<rect x="532.85" y="886.5" width="32.95" height="35.25" fill="#fdd6a2"/>
<rect x="565.8" y="886.5" width="32.95" height="35.25" fill="#fdddb1"/>
<rect x="598.75" y="886.5" width="32.95" height="35.25" fill="#fdbf88"/>
<rect x="631.7" y="886.5" width="32.95" height="35.25" fill="#f57750"/>
<rect x="664.65" y="886.5" width="32.95" height="35.25" fill="#f98556"/>
<rect x="697.6" y="886.5" width="32.95" height="35.25" fill="#fedeb3"/>
<rect x="730.55" y="886.5" width="32.95" height="35.25" fill="#f87f53"/>
<rect x="93" y="921.75" width="32.95" height="35.25" fill="#fff1dd"/>
<rect x="125.95" y="921.75" width="32.95" height="35.25" fill="#fddaab"/>
<rect x="158.9" y="921.75" width="32.95" height="35.25" fill="#fdc791"/>
<rect x="191.85" y="921.75" width="32.95" height="35.25" fill="#fdd9a8"/>
<rect x="224.8" y="921.75" width="32.95" height="35.25" fill="#fddaab"/>
<rect x="257.75" y="921.75" width="32.95" height="35.25" fill="#fdc18a"/>
<rect x="290.7" y="921.75" width="32.95" height="35.25" fill="#fdddb1"/>
<rect x="323.65" y="921.75" width="32.95" height="35.25" fill="#fdc791"/>
<rect x="356.6" y="921.75" width="32.95" height="35.25" fill="#fddaab"/>
<rect x="389.55" y="921.75" width="32.95" height="35.25" fill="#fdd19b"/>
<rect x="434" y="921.75" width="32.95" height="35.25" fill="#fdc68f"/>
<rect x="466.95" y="921.75" width="32.95" height="35.25" fill="#fdddb1"/>
<rect x="499.9" y="921.75" width="32.95" height="35.25" fill="#fdddb1"/>
<rect x="532.85" y="921.75" width="32.95" height="35.25" fill="#feedd4"/>
<rect x="565.8" y="921.75" width="32.95" height="35.25" fill="#fdddb1"/>
<rect x="598.75" y="921.75" width="32.95" height="35.25" fill="#fddaab"/>
<rect x="631.7" y="921.75" width="32.95" height="35.25" fill="#fda973"/>
<rect x="664.65" y="921.75" width="32.95" height="35.25" fill="#fdd09a"/>
<rect x="697.6" y="921.75" width="32.95" height="35.25" fill="#fee1b9"/>
<rect x="730.55" y="921.75" width="32.95" height="35.25" fill="#fdd39d"/>
<rect x="93" y="957" width="32.95" height="35.25" fill="#fdd39d"/>
<rect x="125.95" y="957" width="32.95" height="35.25" fill="#e34b34"/>
<rect x="158.9" y="957" width="32.95" height="35.25" fill="#fc935f"/>
<rect x="191.85" y="957" width="32.95" height="35.25" fill="#fee1b9"/>
<rect x="224.8" y="957" width="32.95" height="35.25" fill="#e34b34"/>
<rect x="257.75" y="957" width="32.95" height="35.25" fill="#fdd9a8"/>
<rect x="290.7" y="957" width="32.95" height="35.25" fill="#fdd39d"/>
<rect x="323.65" y="957" width="32.95" height="35.25" fill="#feebcf"/>
<rect x="356.6" y="957" width="32.95" height="35.25" fill="#fff4e5"/>
<rect x="389.55" y="957" width="32.95" height="35.25" fill="#fdd6a2"/>
<rect x="434" y="957" width="32.95" height="35.25" fill="#feebcf"/>
<rect x="466.95" y="957" width="32.95" height="35.25" fill="#fff2e0"/>
<rect x="499.9" y="957" width="32.95" height="35.25" fill="#f98556"/>
<rect x="532.85" y="957" width="32.95" height="35.25" fill="#fda973"/>
<rect x="565.8" y="957" width="32.95" height="35.25" fill="#fddaab"/>
<rect x="598.75" y="957" width="32.95" height="35.25" fill="#fddbae"/>
<rect x="631.7" y="957" width="32.95" height="35.25" fill="#fda973"/>
<rect x="664.65" y="957" width="32.95" height="35.25" fill="#f26f4c"/>
<rect x="697.6" y="957" width="32.95" height="35.25" fill="#fdd9a8"/>
<rect x="730.55" y="957" width="32.95" height="35.25" fill="#fff4e5"/>
<rect x="93" y="992.25" width="32.95" height="35.25" fill="#feedd4"/>
<rect x="125.95" y="992.25" width="32.95" height="35.25" fill="#feedd4"/>
<rect x="158.9" y="992.25" width="32.95" height="35.25" fill="#fff5e7"/>
<rect x="191.85" y="992.25" width="32.95" height="35.25" fill="#fff4e5"/>
<rect x="224.8" y="992.25" width="32.95" height="35.25" fill="#e8563c"/>
<rect x="257.75" y="992.25" width="32.95" height="35.25" fill="#fee8c7"/>
<rect x="290.7" y="992.25" width="32.95" height="35.25" fill="#fff5e7"/>
<rect x="323.65" y="992.25" width="32.95" height="35.25" fill="#fff4e5"/>
<rect x="356.6" y="992.25" width="32.95" height="35.25" fill="#fff4e5"/>
<rect x="389.55" y="992.25" width="32.95" height="35.25" fill="#fee6c4"/>
<rect x="434" y="992.25" width="32.95" height="35.25" fill="#feedd4"/>
<rect x="466.95" y="992.25" width="32.95" height="35.25" fill="#fdd9a8"/>
<rect x="499.9" y="992.25" width="32.95" height="35.25" fill="#fda973"/>
<rect x="532.85" y="992.25" width="32.95" height="35.25" fill="#fdc68f"/>
<rect x="565.8" y="992.25" width="32.95" height="35.25" fill="#fdc993"/>
<rect x="598.75" y="992.25" width="32.95" height="35.25" fill="#fdbf88"/>
<rect x="631.7" y="992.25" width="32.95" height="35.25" fill="#fdc28b"/>
<rect x="664.65" y="992.25" width="32.95" height="35.25" fill="#8a0000"/>
<rect x="697.6" y="992.25" width="32.95" height="35.25" fill="#fdbf88"/>
<rect x="730.55" y="992.25" width="32.95" height="35.25" fill="#fff2e0"/>
<rect x="93" y="1027.5" width="32.95" height="35.25" fill="#fdc791"/>
<rect x="125.95" y="1027.5" width="32.95" height="35.25" fill="#e0442e"/>
<rect x="158.9" y="1027.5" width="32.95" height="35.25" fill="#fff6ea"/>
<rect x="191.85" y="1027.5" width="32.95" height="35.25" fill="#e34b34"/>
<rect x="224.8" y="1027.5" width="32.95" height="35.25" fill="#fdd09a"/>
<rect x="257.75" y="1027.5" width="32.95" height="35.25" fill="#ed6145"/>
<rect x="290.7" y="1027.5" width="32.95" height="35.25" fill="#e8563c"/>
<rect x="323.65" y="1027.5" width="32.95" height="35.25" fill="#fee4bf"/>
<rect x="356.6" y="1027.5" width="32.95" height="35.25" fill="#fff4e5"/>
<rect x="389.55" y="1027.5" width="32.95" height="35.25" fill="#fff4e5"/>
<rect x="434" y="1027.5" width="32.95" height="35.25" fill="#fda973"/>
<rect x="466.95" y="1027.5" width="32.95" height="35.25" fill="#fddaab"/>
<rect x="499.9" y="1027.5" width="32.95" height="35.25" fill="#fca36d"/>
<rect x="532.85" y="1027.5" width="32.95" height="35.25" fill="#fff4e5"/>
<rect x="565.8" y="1027.5" width="32.95" height="35.25" fill="#feedd4"/>
<rect x="598.75" y="1027.5" width="32.95" height="35.25" fill="#fc9662"/>
<rect x="631.7" y="1027.5" width="32.95" height="35.25" fill="#940000"/>
<rect x="664.65" y="1027.5" width="32.95" height="35.25" fill="#feeacc"/>
<rect x="697.6" y="1027.5" width="32.95" height="35.25" fill="#fff2e0"/>
<rect x="730.55" y="1027.5" width="32.95" height="35.25" fill="#feeacc"/>
<rect x="93" y="1062.75" width="32.95" height="35.25" fill="#e54f37"/>
<rect x="125.95" y="1062.75" width="32.95" height="35.25" fill="#feefd8"/>
<rect x="158.9" y="1062.75" width="32.95" height="35.25" fill="#fdbd86"/>
<rect x="191.85" y="1062.75" width="32.95" height="35.25" fill="#fff6ea"/>
<rect x="224.8" y="1062.75" width="32.95" height="35.25" fill="#fdaf79"/>
<rect x="257.75" y="1062.75" width="32.95" height="35.25" fill="#db3926"/>
<rect x="290.7" y="1062.75" width="32.95" height="35.25" fill="#fdd6a2"/>
<rect x="323.65" y="1062.75" width="32.95" height="35.25" fill="#dd3d29"/>
<rect x="356.6" y="1062.75" width="32.95" height="35.25" fill="#fee1b9"/>
<rect x="389.55" y="1062.75" width="32.95" height="35.25" fill="#f4754f"/>
<rect x="434" y="1062.75" width="32.95" height="35.25" fill="#f67a51"/>
<rect x="466.95" y="1062.75" width="32.95" height="35.25" fill="#fda973"/>
<rect x="499.9" y="1062.75" width="32.95" height="35.25" fill="#f16c4b"/>
<rect x="532.85" y="1062.75" width="32.95" height="35.25" fill="#d32b1c"/>
<rect x="565.8" y="1062.75" width="32.95" height="35.25" fill="#f06749"/>
<rect x="598.75" y="1062.75" width="32.95" height="35.25" fill="#fee8c7"/>
<rect x="631.7" y="1062.75" width="32.95" height="35.25" fill="#fdc993"/>
<rect x="664.65" y="1062.75" width="32.95" height="35.25" fill="#fdc68f"/>
<rect x="697.6" y="1062.75" width="32.95" height="35.25" fill="#fdbb84"/>
<rect x="730.55" y="1062.75" width="32.95" height="35.25" fill="#fedeb3"/>
<rect x="93" y="1098" width="32.95" height="35.25" fill="#de402c"/>
<rect x="125.95" y="1098" width="32.95" height="35.25" fill="#de402c"/>
<rect x="158.9" y="1098" width="32.95" height="35.25" fill="#f26f4c"/>
<rect x="191.85" y="1098" width="32.95" height="35.25" fill="#c0110b"/>
<rect x="224.8" y="1098" width="32.95" height="35.25" fill="#dd3d29"/>
<rect x="257.75" y="1098" width="32.95" height="35.25" fill="#f77d52"/>
<rect x="290.7" y="1098" width="32.95" height="35.25" fill="#f77d52"/>
<rect x="323.65" y="1098" width="32.95" height="35.25" fill="#f4754f"/>
<rect x="356.6" y="1098" width="32.95" height="35.25" fill="#f57750"/>
<rect x="389.55" y="1098" width="32.95" height="35.25" fill="#fb8a58"/>
<rect x="434" y="1098" width="32.95" height="35.25" fill="#eb5d42"/>
<rect x="466.95" y="1098" width="32.95" height="35.25" fill="#fdaf79"/>
<rect x="499.9" y="1098" width="32.95" height="35.25" fill="#f16c4b"/>
<rect x="532.85" y="1098" width="32.95" height="35.25" fill="#e54f37"/>
<rect x="565.8" y="1098" width="32.95" height="35.25" fill="#f67a51"/>
<rect x="598.75" y="1098" width="32.95" height="35.25" fill="#f88254"/>
<rect x="631.7" y="1098" width="32.95" height="35.25" fill="#fdbf88"/>
<rect x="664.65" y="1098" width="32.95" height="35.25" fill="#f98556"/>
<rect x="697.6" y="1098" width="32.95" height="35.25" fill="#e54f37"/>
<rect x="730.55" y="1098" width="32.95" height="35.25" fill="#fda973"/>
<rect x="93" y="1133.25" width="32.95" height="35.25" fill="#bb0b07"/>
<rect x="125.95" y="1133.25" width="32.95" height="35.25" fill="#f26f4c"/>
<rect x="158.9" y="1133.25" width="32.95" height="35.25" fill="#f26f4c"/>
<rect x="191.85" y="1133.25" width="32.95" height="35.25" fill="#fdc28b"/>
<rect x="224.8" y="1133.25" width="32.95" height="35.25" fill="#d32b1c"/>
<rect x="257.75" y="1133.25" width="32.95" height="35.25" fill="#e8563c"/>
<rect x="290.7" y="1133.25" width="32.95" height="35.25" fill="#d1281a"/>
<rect x="323.65" y="1133.25" width="32.95" height="35.25" fill="#d1281a"/>
<rect x="356.6" y="1133.25" width="32.95" height="35.25" fill="#f16a4a"/>
<rect x="389.55" y="1133.25" width="32.95" height="35.25" fill="#860000"/>
<rect x="434" y="1133.25" width="32.95" height="35.25" fill="#ce2518"/>
<rect x="466.95" y="1133.25" width="32.95" height="35.25" fill="#feefd8"/>
<rect x="499.9" y="1133.25" width="32.95" height="35.25" fill="#fb8a58"/>
<rect x="532.85" y="1133.25" width="32.95" height="35.25" fill="#fdb67f"/>
<rect x="565.8" y="1133.25" width="32.95" height="35.25" fill="#fdc68f"/>
<rect x="598.75" y="1133.25" width="32.95" height="35.25" fill="#ad0000"/>
<rect x="631.7" y="1133.25" width="32.95" height="35.25" fill="#e8563c"/>
<rect x="664.65" y="1133.25" width="32.95" height="35.25" fill="#f16a4a"/>
<rect x="697.6" y="1133.25" width="32.95" height="35.25" fill="#f3724d"/>
<rect x="730.55" y="1133.25" width="32.95" height="35.25" fill="#fdc68f"/>
</g>
<rect x="93" y="73.5" width="329.5" height="29.3" fill="#27a0e4" stroke="#8a9098" stroke-width="1.4"/>
<g stroke="#7a7a7a" stroke-opacity="0.45" stroke-width="1.2">
<line x1="125.95" y1="73.5" x2="125.95" y2="102.8"/>
<line x1="158.9" y1="73.5" x2="158.9" y2="102.8"/>
<line x1="191.85" y1="73.5" x2="191.85" y2="102.8"/>
<line x1="224.8" y1="73.5" x2="224.8" y2="102.8"/>
<line x1="257.75" y1="73.5" x2="257.75" y2="102.8"/>
<line x1="290.7" y1="73.5" x2="290.7" y2="102.8"/>
<line x1="323.65" y1="73.5" x2="323.65" y2="102.8"/>
<line x1="356.6" y1="73.5" x2="356.6" y2="102.8"/>
<line x1="389.55" y1="73.5" x2="389.55" y2="102.8"/>
</g>
<rect x="434" y="73.5" width="329.5" height="29.3" fill="#e8344b" stroke="#8a9098" stroke-width="1.4"/>
<g stroke="#7a7a7a" stroke-opacity="0.45" stroke-width="1.2">
<line x1="466.95" y1="73.5" x2="466.95" y2="102.8"/>
<line x1="499.9" y1="73.5" x2="499.9" y2="102.8"/>
<line x1="532.85" y1="73.5" x2="532.85" y2="102.8"/>
<line x1="565.8" y1="73.5" x2="565.8" y2="102.8"/>
<line x1="598.75" y1="73.5" x2="598.75" y2="102.8"/>
<line x1="631.7" y1="73.5" x2="631.7" y2="102.8"/>
<line x1="664.65" y1="73.5" x2="664.65" y2="102.8"/>
<line x1="697.6" y1="73.5" x2="697.6" y2="102.8"/>
<line x1="730.55" y1="73.5" x2="730.55" y2="102.8"/>
</g>
<g font-family="Liberation Sans, Arial, sans-serif" font-size="29" fill="#111" stroke="#111" stroke-width="0.35">
<text x="771.5" y="139.01">Ludopivirus</text>
<text x="771.5" y="174.26">Sapovirus</text>
<text x="771.5" y="209.51">Rotavirus</text>
<text x="771.5" y="244.76">Fijivirus</text>
<text x="771.5" y="280.01">unclassified Iridoviridae genus</text>
<text x="771.5" y="315.26">Chloriridovirus</text>
<text x="771.5" y="350.51">Iridovirus</text>
<text x="771.5" y="385.76">Orthorubulavirus</text>
<text x="771.5" y="421.01">unclassified Nodaviridae genus</text>
<text x="771.5" y="456.26">Orthopicobirnavirus</text>
<text x="771.5" y="491.51">Sciuripoxvirus</text>
<text x="771.5" y="526.76">Centapoxvirus</text>
<text x="771.5" y="562.01">Intracisternal A−particles</text>
<text x="771.5" y="597.26">Hepatovirus</text>
<text x="771.5" y="632.51">unclassified Picornaviridae genus</text>
<text x="771.5" y="667.76">unclassified Retroviridae genus</text>
<text x="771.5" y="703.01">Avastrovirus</text>
<text x="771.5" y="738.26">unclassified Astroviridae genus</text>
<text x="771.5" y="773.51">Orthoreovirus</text>
<text x="771.5" y="808.76">Vesivirus</text>
<text x="771.5" y="844.01">Capripoxvirus</text>
<text x="771.5" y="879.26">Lentivirus</text>
<text x="771.5" y="914.51">Cytomegalovirus</text>
<text x="771.5" y="949.76">Gammaretrovirus</text>
<text x="771.5" y="985.01">Picobirnavirus</text>
<text x="771.5" y="1020.26">Sapelovirus</text>
<text x="771.5" y="1055.51">Isavirus</text>
<text x="771.5" y="1090.76">unclassified Caliciviridae genus</text>
<text x="771.5" y="1126.01">Alpharetrovirus</text>
<text x="771.5" y="1161.26">unclassified Picobirnaviridae genus</text>
<text x="771.5" y="97.6">Genus</text>
</g>
<g stroke="#383838" stroke-width="2.0" stroke-linecap="square" fill="none">
<line x1="51.8" y1="386.3" x2="51.8" y2="1076.3"/>
<line x1="51.8" y1="386.3" x2="69.9" y2="386.3"/>
<line x1="51.8" y1="1076.3" x2="63.7" y2="1076.3"/>
<line x1="69.9" y1="128.62" x2="69.9" y2="957.1"/>
<line x1="69.9" y1="128.62" x2="93" y2="128.62"/>
<line x1="69.9" y1="330.5" x2="79.2" y2="330.5"/>
<line x1="69.9" y1="957.1" x2="75.4" y2="957.1"/>
<line x1="75.4" y1="921.8" x2="75.4" y2="992.4"/>
<line x1="75.4" y1="921.8" x2="81.5" y2="921.8"/>
<line x1="81.5" y1="904.12" x2="81.5" y2="939.38"/>
<line x1="81.5" y1="904.12" x2="93" y2="904.12"/>
<line x1="81.5" y1="939.38" x2="93" y2="939.38"/>
<line x1="75.4" y1="992.4" x2="77.7" y2="992.4"/>
<line x1="77.7" y1="974.62" x2="77.7" y2="1009.88"/>
<line x1="77.7" y1="974.62" x2="93" y2="974.62"/>
<line x1="77.7" y1="1009.88" x2="93" y2="1009.88"/>
<line x1="63.7" y1="1045.12" x2="63.7" y2="1107.7"/>
<line x1="63.7" y1="1045.12" x2="93" y2="1045.12"/>
<line x1="63.7" y1="1107.7" x2="69.7" y2="1107.7"/>
<line x1="69.7" y1="1080.38" x2="69.7" y2="1133.2"/>
<line x1="69.7" y1="1080.38" x2="93" y2="1080.38"/>
<line x1="69.7" y1="1133.2" x2="77.7" y2="1133.2"/>
<line x1="77.7" y1="1115.62" x2="77.7" y2="1150.88"/>
<line x1="77.7" y1="1115.62" x2="93" y2="1115.62"/>
<line x1="77.7" y1="1150.88" x2="93" y2="1150.88"/>
<line x1="79.2" y1="163.88" x2="79.2" y2="497"/>
<line x1="79.2" y1="163.88" x2="93" y2="163.88"/>
<line x1="80.6" y1="199.12" x2="80.6" y2="763.12"/>
<line x1="80.6" y1="199.12" x2="93" y2="199.12"/>
<line x1="82.1" y1="234.38" x2="82.1" y2="500"/>
<line x1="82.1" y1="234.38" x2="93" y2="234.38"/>
<line x1="85.6" y1="296" x2="85.6" y2="604.5"/>
<line x1="89.3" y1="269.62" x2="89.3" y2="322.5"/>
<line x1="89.3" y1="269.62" x2="93" y2="269.62"/>
<line x1="85.6" y1="296" x2="89.3" y2="296"/>
<line x1="90.7" y1="304.88" x2="90.7" y2="340.12"/>
<line x1="90.7" y1="304.88" x2="93" y2="304.88"/>
<line x1="90.7" y1="340.12" x2="93" y2="340.12"/>
<line x1="89.3" y1="322.5" x2="90.7" y2="322.5"/>
<line x1="89.3" y1="375.38" x2="89.3" y2="410.62"/>
<line x1="89.3" y1="375.38" x2="93" y2="375.38"/>
<line x1="89.3" y1="410.62" x2="93" y2="410.62"/>
<line x1="86.8" y1="393" x2="89.3" y2="393"/>
<line x1="86.8" y1="393" x2="86.8" y2="534"/>
<line x1="88.4" y1="445.88" x2="93" y2="445.88"/>
<line x1="88.4" y1="420" x2="88.4" y2="481.12"/>
<line x1="88" y1="481.12" x2="93" y2="481.12"/>
<line x1="90.2" y1="516.38" x2="90.2" y2="551.62"/>
<line x1="90.2" y1="516.38" x2="93" y2="516.38"/>
<line x1="90.2" y1="551.62" x2="93" y2="551.62"/>
<line x1="86.8" y1="534" x2="90.2" y2="534"/>
<line x1="89.3" y1="586.88" x2="89.3" y2="622.12"/>
<line x1="89.3" y1="586.88" x2="93" y2="586.88"/>
<line x1="89.3" y1="622.12" x2="93" y2="622.12"/>
<line x1="85.6" y1="604.5" x2="89.3" y2="604.5"/>
<line x1="81.2" y1="497" x2="81.2" y2="684"/>
<line x1="81.2" y1="684" x2="85.7" y2="684"/>
<line x1="85.7" y1="657.38" x2="85.7" y2="710.3"/>
<line x1="85.7" y1="657.38" x2="93" y2="657.38"/>
<line x1="85.7" y1="710.3" x2="87.5" y2="710.3"/>
<line x1="87.5" y1="692.62" x2="87.5" y2="727.88"/>
<line x1="87.5" y1="692.62" x2="93" y2="692.62"/>
<line x1="87.5" y1="727.88" x2="93" y2="727.88"/>
<line x1="80.6" y1="763.12" x2="93" y2="763.12"/>
<line x1="82.6" y1="763.12" x2="82.6" y2="824.8"/>
<line x1="82.6" y1="824.8" x2="84.8" y2="824.8"/>
<line x1="84.8" y1="798.38" x2="84.8" y2="851.3"/>
<line x1="84.8" y1="798.38" x2="93" y2="798.38"/>
<line x1="84.8" y1="851.3" x2="89" y2="851.3"/>
<line x1="89" y1="833.62" x2="89" y2="868.88"/>
<line x1="89" y1="833.62" x2="93" y2="833.62"/>
<line x1="89" y1="868.88" x2="93" y2="868.88"/>
</g>
<g fill="#1a1a1a">
<rect x="78.6" y="257" width="4.6" height="57"/>
<rect x="87.6" y="443" width="2.6" height="22"/>
</g>
<rect x="78.6" y="314" width="7.2" height="83" fill="#6a6a6a"/>
<g stroke="#979088" stroke-width="1.7">
<rect x="1358.6" y="112.7" width="31.17" height="35.24" fill="#e8563c"/>
<rect x="1389.77" y="112.7" width="31.17" height="35.24" fill="#f67a51"/>
<rect x="1420.94" y="112.7" width="31.17" height="35.24" fill="#fc8d59"/>
<rect x="1452.11" y="112.7" width="31.17" height="35.24" fill="#e0442e"/>
<rect x="1483.28" y="112.7" width="31.17" height="35.24" fill="#f06749"/>
<rect x="1514.45" y="112.7" width="31.17" height="35.24" fill="#fca06a"/>
<rect x="1545.62" y="112.7" width="31.17" height="35.24" fill="#fca06a"/>
<rect x="1576.79" y="112.7" width="31.17" height="35.24" fill="#fca06a"/>
<rect x="1607.96" y="112.7" width="31.17" height="35.24" fill="#fc9662"/>
<rect x="1639.13" y="112.7" width="31.17" height="35.24" fill="#fda973"/>
<rect x="1681.8" y="112.7" width="31.17" height="35.24" fill="#f3724d"/>
<rect x="1712.97" y="112.7" width="31.17" height="35.24" fill="#fdb982"/>
<rect x="1744.14" y="112.7" width="31.17" height="35.24" fill="#fc9d68"/>
<rect x="1775.31" y="112.7" width="31.17" height="35.24" fill="#eb5d42"/>
<rect x="1806.48" y="112.7" width="31.17" height="35.24" fill="#fda670"/>
<rect x="1837.65" y="112.7" width="31.17" height="35.24" fill="#fc9965"/>
<rect x="1868.82" y="112.7" width="31.17" height="35.24" fill="#fdb982"/>
<rect x="1899.99" y="112.7" width="31.17" height="35.24" fill="#fca36d"/>
<rect x="1931.16" y="112.7" width="31.17" height="35.24" fill="#f16a4a"/>
<rect x="1962.33" y="112.7" width="31.17" height="35.24" fill="#fdbd86"/>
<rect x="1358.6" y="147.94" width="31.17" height="35.24" fill="#f4754f"/>
<rect x="1389.77" y="147.94" width="31.17" height="35.24" fill="#e8563c"/>
<rect x="1420.94" y="147.94" width="31.17" height="35.24" fill="#f57750"/>
<rect x="1452.11" y="147.94" width="31.17" height="35.24" fill="#cc2116"/>
<rect x="1483.28" y="147.94" width="31.17" height="35.24" fill="#ed6145"/>
<rect x="1514.45" y="147.94" width="31.17" height="35.24" fill="#fb8a58"/>
<rect x="1545.62" y="147.94" width="31.17" height="35.24" fill="#fc8d59"/>
<rect x="1576.79" y="147.94" width="31.17" height="35.24" fill="#f98556"/>
<rect x="1607.96" y="147.94" width="31.17" height="35.24" fill="#f98556"/>
<rect x="1639.13" y="147.94" width="31.17" height="35.24" fill="#fdb982"/>
<rect x="1681.8" y="147.94" width="31.17" height="35.24" fill="#f4754f"/>
<rect x="1712.97" y="147.94" width="31.17" height="35.24" fill="#fdb982"/>
<rect x="1744.14" y="147.94" width="31.17" height="35.24" fill="#f77d52"/>
<rect x="1775.31" y="147.94" width="31.17" height="35.24" fill="#f3724d"/>
<rect x="1806.48" y="147.94" width="31.17" height="35.24" fill="#fb8a58"/>
<rect x="1837.65" y="147.94" width="31.17" height="35.24" fill="#fc9662"/>
<rect x="1868.82" y="147.94" width="31.17" height="35.24" fill="#fdb982"/>
<rect x="1899.99" y="147.94" width="31.17" height="35.24" fill="#fb8a58"/>
<rect x="1931.16" y="147.94" width="31.17" height="35.24" fill="#f26f4c"/>
<rect x="1962.33" y="147.94" width="31.17" height="35.24" fill="#fda973"/>
<rect x="1358.6" y="183.18" width="31.17" height="35.24" fill="#fb8a58"/>
<rect x="1389.77" y="183.18" width="31.17" height="35.24" fill="#fff6ea"/>
<rect x="1420.94" y="183.18" width="31.17" height="35.24" fill="#fdbf88"/>
<rect x="1452.11" y="183.18" width="31.17" height="35.24" fill="#fff6ea"/>
<rect x="1483.28" y="183.18" width="31.17" height="35.24" fill="#fdbd86"/>
<rect x="1514.45" y="183.18" width="31.17" height="35.24" fill="#eb5d42"/>
<rect x="1545.62" y="183.18" width="31.17" height="35.24" fill="#fdd39d"/>
<rect x="1576.79" y="183.18" width="31.17" height="35.24" fill="#f4754f"/>
<rect x="1607.96" y="183.18" width="31.17" height="35.24" fill="#feeacc"/>
<rect x="1639.13" y="183.18" width="31.17" height="35.24" fill="#fc935f"/>
<rect x="1681.8" y="183.18" width="31.17" height="35.24" fill="#fc905c"/>
<rect x="1712.97" y="183.18" width="31.17" height="35.24" fill="#fff6ea"/>
<rect x="1744.14" y="183.18" width="31.17" height="35.24" fill="#fc905c"/>
<rect x="1775.31" y="183.18" width="31.17" height="35.24" fill="#ed6145"/>
<rect x="1806.48" y="183.18" width="31.17" height="35.24" fill="#fdd9a8"/>
<rect x="1837.65" y="183.18" width="31.17" height="35.24" fill="#fff6ea"/>
<rect x="1868.82" y="183.18" width="31.17" height="35.24" fill="#fdd19b"/>
<rect x="1899.99" y="183.18" width="31.17" height="35.24" fill="#fff6ea"/>
<rect x="1931.16" y="183.18" width="31.17" height="35.24" fill="#fdd39d"/>
<rect x="1962.33" y="183.18" width="31.17" height="35.24" fill="#fff5e7"/>
<rect x="1358.6" y="218.42" width="31.17" height="35.24" fill="#f4754f"/>
<rect x="1389.77" y="218.42" width="31.17" height="35.24" fill="#fff5e7"/>
<rect x="1420.94" y="218.42" width="31.17" height="35.24" fill="#fdbf88"/>
<rect x="1452.11" y="218.42" width="31.17" height="35.24" fill="#fff4e5"/>
<rect x="1483.28" y="218.42" width="31.17" height="35.24" fill="#fdb67f"/>
<rect x="1514.45" y="218.42" width="31.17" height="35.24" fill="#e8563c"/>
<rect x="1545.62" y="218.42" width="31.17" height="35.24" fill="#fdd39d"/>
<rect x="1576.79" y="218.42" width="31.17" height="35.24" fill="#e54f37"/>
<rect x="1607.96" y="218.42" width="31.17" height="35.24" fill="#fee9ca"/>
<rect x="1639.13" y="218.42" width="31.17" height="35.24" fill="#fa8857"/>
<rect x="1681.8" y="218.42" width="31.17" height="35.24" fill="#fca36d"/>
<rect x="1712.97" y="218.42" width="31.17" height="35.24" fill="#fdaf79"/>
<rect x="1744.14" y="218.42" width="31.17" height="35.24" fill="#f87f53"/>
<rect x="1775.31" y="218.42" width="31.17" height="35.24" fill="#dd3d29"/>
<rect x="1806.48" y="218.42" width="31.17" height="35.24" fill="#f16c4b"/>
<rect x="1837.65" y="218.42" width="31.17" height="35.24" fill="#fedeb3"/>
<rect x="1868.82" y="218.42" width="31.17" height="35.24" fill="#fdd6a2"/>
<rect x="1899.99" y="218.42" width="31.17" height="35.24" fill="#fff4e5"/>
<rect x="1931.16" y="218.42" width="31.17" height="35.24" fill="#fddbae"/>
<rect x="1962.33" y="218.42" width="31.17" height="35.24" fill="#fee1b9"/>
<rect x="1358.6" y="253.66" width="31.17" height="35.24" fill="#fff7ec"/>
<rect x="1389.77" y="253.66" width="31.17" height="35.24" fill="#fff7ec"/>
<rect x="1420.94" y="253.66" width="31.17" height="35.24" fill="#fff7ec"/>
<rect x="1452.11" y="253.66" width="31.17" height="35.24" fill="#fff7ec"/>
<rect x="1483.28" y="253.66" width="31.17" height="35.24" fill="#fff7ec"/>
<rect x="1514.45" y="253.66" width="31.17" height="35.24" fill="#fff7ec"/>
<rect x="1545.62" y="253.66" width="31.17" height="35.24" fill="#fff7ec"/>
<rect x="1576.79" y="253.66" width="31.17" height="35.24" fill="#fee9ca"/>
<rect x="1607.96" y="253.66" width="31.17" height="35.24" fill="#fff7ec"/>
<rect x="1639.13" y="253.66" width="31.17" height="35.24" fill="#fff7ec"/>
<rect x="1681.8" y="253.66" width="31.17" height="35.24" fill="#f26f4c"/>
<rect x="1712.97" y="253.66" width="31.17" height="35.24" fill="#fff7ec"/>
<rect x="1744.14" y="253.66" width="31.17" height="35.24" fill="#fff7ec"/>
<rect x="1775.31" y="253.66" width="31.17" height="35.24" fill="#fff7ec"/>
<rect x="1806.48" y="253.66" width="31.17" height="35.24" fill="#fff7ec"/>
<rect x="1837.65" y="253.66" width="31.17" height="35.24" fill="#fff7ec"/>
<rect x="1868.82" y="253.66" width="31.17" height="35.24" fill="#fff7ec"/>
<rect x="1899.99" y="253.66" width="31.17" height="35.24" fill="#fff7ec"/>
<rect x="1931.16" y="253.66" width="31.17" height="35.24" fill="#fff7ec"/>
<rect x="1962.33" y="253.66" width="31.17" height="35.24" fill="#fff7ec"/>
<rect x="1358.6" y="288.9" width="31.17" height="35.24" fill="#fee9ca"/>
<rect x="1389.77" y="288.9" width="31.17" height="35.24" fill="#fff7ec"/>
<rect x="1420.94" y="288.9" width="31.17" height="35.24" fill="#fff7ec"/>
<rect x="1452.11" y="288.9" width="31.17" height="35.24" fill="#fff7ec"/>
<rect x="1483.28" y="288.9" width="31.17" height="35.24" fill="#fff7ec"/>
<rect x="1514.45" y="288.9" width="31.17" height="35.24" fill="#fdbf88"/>
<rect x="1545.62" y="288.9" width="31.17" height="35.24" fill="#fff5e7"/>
<rect x="1576.79" y="288.9" width="31.17" height="35.24" fill="#fdbf88"/>
<rect x="1607.96" y="288.9" width="31.17" height="35.24" fill="#fff4e5"/>
<rect x="1639.13" y="288.9" width="31.17" height="35.24" fill="#fdd09a"/>
<rect x="1681.8" y="288.9" width="31.17" height="35.24" fill="#fff7ec"/>
<rect x="1712.97" y="288.9" width="31.17" height="35.24" fill="#fff7ec"/>
<rect x="1744.14" y="288.9" width="31.17" height="35.24" fill="#fff7ec"/>
<rect x="1775.31" y="288.9" width="31.17" height="35.24" fill="#fff7ec"/>
<rect x="1806.48" y="288.9" width="31.17" height="35.24" fill="#fff7ec"/>
<rect x="1837.65" y="288.9" width="31.17" height="35.24" fill="#fff7ec"/>
<rect x="1868.82" y="288.9" width="31.17" height="35.24" fill="#fff7ec"/>
<rect x="1899.99" y="288.9" width="31.17" height="35.24" fill="#fff7ec"/>
<rect x="1931.16" y="288.9" width="31.17" height="35.24" fill="#fff7ec"/>
<rect x="1962.33" y="288.9" width="31.17" height="35.24" fill="#feeacc"/>
<rect x="1358.6" y="324.14" width="31.17" height="35.24" fill="#fff7ec"/>
<rect x="1389.77" y="324.14" width="31.17" height="35.24" fill="#fff7ec"/>
<rect x="1420.94" y="324.14" width="31.17" height="35.24" fill="#fff7ec"/>
<rect x="1452.11" y="324.14" width="31.17" height="35.24" fill="#fff7ec"/>
<rect x="1483.28" y="324.14" width="31.17" height="35.24" fill="#fff7ec"/>
<rect x="1514.45" y="324.14" width="31.17" height="35.24" fill="#fff7ec"/>
<rect x="1545.62" y="324.14" width="31.17" height="35.24" fill="#fddaab"/>
<rect x="1576.79" y="324.14" width="31.17" height="35.24" fill="#fdd7a5"/>
<rect x="1607.96" y="324.14" width="31.17" height="35.24" fill="#fff5e7"/>
<rect x="1639.13" y="324.14" width="31.17" height="35.24" fill="#fdd09a"/>
<rect x="1681.8" y="324.14" width="31.17" height="35.24" fill="#fff7ec"/>
<rect x="1712.97" y="324.14" width="31.17" height="35.24" fill="#fee2bc"/>
<rect x="1744.14" y="324.14" width="31.17" height="35.24" fill="#fff7ec"/>
<rect x="1775.31" y="324.14" width="31.17" height="35.24" fill="#fff7ec"/>
<rect x="1806.48" y="324.14" width="31.17" height="35.24" fill="#fff7ec"/>
<rect x="1837.65" y="324.14" width="31.17" height="35.24" fill="#fff7ec"/>
<rect x="1868.82" y="324.14" width="31.17" height="35.24" fill="#fff7ec"/>
<rect x="1899.99" y="324.14" width="31.17" height="35.24" fill="#fff7ec"/>
<rect x="1931.16" y="324.14" width="31.17" height="35.24" fill="#fff7ec"/>
<rect x="1962.33" y="324.14" width="31.17" height="35.24" fill="#fff7ec"/>
<rect x="1358.6" y="359.38" width="31.17" height="35.24" fill="#fff7ec"/>
<rect x="1389.77" y="359.38" width="31.17" height="35.24" fill="#fff7ec"/>
<rect x="1420.94" y="359.38" width="31.17" height="35.24" fill="#fff7ec"/>
<rect x="1452.11" y="359.38" width="31.17" height="35.24" fill="#fff7ec"/>
<rect x="1483.28" y="359.38" width="31.17" height="35.24" fill="#fff7ec"/>
<rect x="1514.45" y="359.38" width="31.17" height="35.24" fill="#fdd39d"/>
<rect x="1545.62" y="359.38" width="31.17" height="35.24" fill="#fff7ec"/>
<rect x="1576.79" y="359.38" width="31.17" height="35.24" fill="#fff7ec"/>
<rect x="1607.96" y="359.38" width="31.17" height="35.24" fill="#fff7ec"/>
<rect x="1639.13" y="359.38" width="31.17" height="35.24" fill="#fff7ec"/>
<rect x="1681.8" y="359.38" width="31.17" height="35.24" fill="#fff7ec"/>
<rect x="1712.97" y="359.38" width="31.17" height="35.24" fill="#fff7ec"/>
<rect x="1744.14" y="359.38" width="31.17" height="35.24" fill="#feeacc"/>
<rect x="1775.31" y="359.38" width="31.17" height="35.24" fill="#fff7ec"/>
<rect x="1806.48" y="359.38" width="31.17" height="35.24" fill="#fdc18a"/>
<rect x="1837.65" y="359.38" width="31.17" height="35.24" fill="#fff7ec"/>
<rect x="1868.82" y="359.38" width="31.17" height="35.24" fill="#fff7ec"/>
<rect x="1899.99" y="359.38" width="31.17" height="35.24" fill="#fff7ec"/>
<rect x="1931.16" y="359.38" width="31.17" height="35.24" fill="#fff7ec"/>
<rect x="1962.33" y="359.38" width="31.17" height="35.24" fill="#fff7ec"/>
<rect x="1358.6" y="394.62" width="31.17" height="35.24" fill="#fff7ec"/>
<rect x="1389.77" y="394.62" width="31.17" height="35.24" fill="#fff7ec"/>
<rect x="1420.94" y="394.62" width="31.17" height="35.24" fill="#fff7ec"/>
<rect x="1452.11" y="394.62" width="31.17" height="35.24" fill="#fff7ec"/>
<rect x="1483.28" y="394.62" width="31.17" height="35.24" fill="#fff7ec"/>
<rect x="1514.45" y="394.62" width="31.17" height="35.24" fill="#fff5e7"/>
<rect x="1545.62" y="394.62" width="31.17" height="35.24" fill="#fff7ec"/>
<rect x="1576.79" y="394.62" width="31.17" height="35.24" fill="#fdc18a"/>
<rect x="1607.96" y="394.62" width="31.17" height="35.24" fill="#fff7ec"/>
<rect x="1639.13" y="394.62" width="31.17" height="35.24" fill="#fff7ec"/>
<rect x="1681.8" y="394.62" width="31.17" height="35.24" fill="#fff7ec"/>
<rect x="1712.97" y="394.62" width="31.17" height="35.24" fill="#fff7ec"/>
<rect x="1744.14" y="394.62" width="31.17" height="35.24" fill="#fff7ec"/>
<rect x="1775.31" y="394.62" width="31.17" height="35.24" fill="#fee6c4"/>
<rect x="1806.48" y="394.62" width="31.17" height="35.24" fill="#fdcb94"/>
<rect x="1837.65" y="394.62" width="31.17" height="35.24" fill="#fff7ec"/>
<rect x="1868.82" y="394.62" width="31.17" height="35.24" fill="#fff7ec"/>
<rect x="1899.99" y="394.62" width="31.17" height="35.24" fill="#fff7ec"/>
<rect x="1931.16" y="394.62" width="31.17" height="35.24" fill="#fff7ec"/>
<rect x="1962.33" y="394.62" width="31.17" height="35.24" fill="#fee8c7"/>
<rect x="1358.6" y="429.86" width="31.17" height="35.24" fill="#fff7ec"/>
<rect x="1389.77" y="429.86" width="31.17" height="35.24" fill="#fff7ec"/>
<rect x="1420.94" y="429.86" width="31.17" height="35.24" fill="#fff7ec"/>
<rect x="1452.11" y="429.86" width="31.17" height="35.24" fill="#fff7ec"/>
<rect x="1483.28" y="429.86" width="31.17" height="35.24" fill="#fff7ec"/>
<rect x="1514.45" y="429.86" width="31.17" height="35.24" fill="#fff7ec"/>
<rect x="1545.62" y="429.86" width="31.17" height="35.24" fill="#fff7ec"/>
<rect x="1576.79" y="429.86" width="31.17" height="35.24" fill="#fff7ec"/>
<rect x="1607.96" y="429.86" width="31.17" height="35.24" fill="#fdddb1"/>
<rect x="1639.13" y="429.86" width="31.17" height="35.24" fill="#fff7ec"/>
<rect x="1681.8" y="429.86" width="31.17" height="35.24" fill="#fff7ec"/>
<rect x="1712.97" y="429.86" width="31.17" height="35.24" fill="#fff7ec"/>
<rect x="1744.14" y="429.86" width="31.17" height="35.24" fill="#fff7ec"/>
<rect x="1775.31" y="429.86" width="31.17" height="35.24" fill="#fff7ec"/>
<rect x="1806.48" y="429.86" width="31.17" height="35.24" fill="#fff7ec"/>
<rect x="1837.65" y="429.86" width="31.17" height="35.24" fill="#fdc18a"/>
<rect x="1868.82" y="429.86" width="31.17" height="35.24" fill="#fff7ec"/>
<rect x="1899.99" y="429.86" width="31.17" height="35.24" fill="#fff7ec"/>
<rect x="1931.16" y="429.86" width="31.17" height="35.24" fill="#fddaab"/>
<rect x="1962.33" y="429.86" width="31.17" height="35.24" fill="#fff7ec"/>
<rect x="1358.6" y="465.1" width="31.17" height="35.24" fill="#fff7ec"/>
<rect x="1389.77" y="465.1" width="31.17" height="35.24" fill="#fff7ec"/>
<rect x="1420.94" y="465.1" width="31.17" height="35.24" fill="#fff7ec"/>
<rect x="1452.11" y="465.1" width="31.17" height="35.24" fill="#fff7ec"/>
<rect x="1483.28" y="465.1" width="31.17" height="35.24" fill="#fff7ec"/>
<rect x="1514.45" y="465.1" width="31.17" height="35.24" fill="#fff7ec"/>
<rect x="1545.62" y="465.1" width="31.17" height="35.24" fill="#fff7ec"/>
<rect x="1576.79" y="465.1" width="31.17" height="35.24" fill="#fff7ec"/>
<rect x="1607.96" y="465.1" width="31.17" height="35.24" fill="#fff7ec"/>
<rect x="1639.13" y="465.1" width="31.17" height="35.24" fill="#fff7ec"/>
<rect x="1681.8" y="465.1" width="31.17" height="35.24" fill="#fff7ec"/>
<rect x="1712.97" y="465.1" width="31.17" height="35.24" fill="#fff7ec"/>
<rect x="1744.14" y="465.1" width="31.17" height="35.24" fill="#fff7ec"/>
<rect x="1775.31" y="465.1" width="31.17" height="35.24" fill="#fff7ec"/>
<rect x="1806.48" y="465.1" width="31.17" height="35.24" fill="#fff7ec"/>
<rect x="1837.65" y="465.1" width="31.17" height="35.24" fill="#feeacc"/>
<rect x="1868.82" y="465.1" width="31.17" height="35.24" fill="#fdcb94"/>
<rect x="1899.99" y="465.1" width="31.17" height="35.24" fill="#fff7ec"/>
<rect x="1931.16" y="465.1" width="31.17" height="35.24" fill="#fff7ec"/>
<rect x="1962.33" y="465.1" width="31.17" height="35.24" fill="#fff7ec"/>
<rect x="1358.6" y="500.34" width="31.17" height="35.24" fill="#fff7ec"/>
<rect x="1389.77" y="500.34" width="31.17" height="35.24" fill="#fff7ec"/>
<rect x="1420.94" y="500.34" width="31.17" height="35.24" fill="#fff7ec"/>
<rect x="1452.11" y="500.34" width="31.17" height="35.24" fill="#fff7ec"/>
<rect x="1483.28" y="500.34" width="31.17" height="35.24" fill="#fee9ca"/>
<rect x="1514.45" y="500.34" width="31.17" height="35.24" fill="#feeacc"/>
<rect x="1545.62" y="500.34" width="31.17" height="35.24" fill="#fff7ec"/>
<rect x="1576.79" y="500.34" width="31.17" height="35.24" fill="#fff7ec"/>
<rect x="1607.96" y="500.34" width="31.17" height="35.24" fill="#fff7ec"/>
<rect x="1639.13" y="500.34" width="31.17" height="35.24" fill="#feebcf"/>
<rect x="1681.8" y="500.34" width="31.17" height="35.24" fill="#fee9ca"/>
<rect x="1712.97" y="500.34" width="31.17" height="35.24" fill="#fff7ec"/>
<rect x="1744.14" y="500.34" width="31.17" height="35.24" fill="#fff7ec"/>
<rect x="1775.31" y="500.34" width="31.17" height="35.24" fill="#fff7ec"/>
<rect x="1806.48" y="500.34" width="31.17" height="35.24" fill="#fff7ec"/>
<rect x="1837.65" y="500.34" width="31.17" height="35.24" fill="#fee5c2"/>
<rect x="1868.82" y="500.34" width="31.17" height="35.24" fill="#feebcf"/>
<rect x="1899.99" y="500.34" width="31.17" height="35.24" fill="#fff7ec"/>
<rect x="1931.16" y="500.34" width="31.17" height="35.24" fill="#fff7ec"/>
<rect x="1962.33" y="500.34" width="31.17" height="35.24" fill="#fee5c2"/>
<rect x="1358.6" y="535.58" width="31.17" height="35.24" fill="#fff7ec"/>
<rect x="1389.77" y="535.58" width="31.17" height="35.24" fill="#fff7ec"/>
<rect x="1420.94" y="535.58" width="31.17" height="35.24" fill="#fff7ec"/>
<rect x="1452.11" y="535.58" width="31.17" height="35.24" fill="#fff7ec"/>
<rect x="1483.28" y="535.58" width="31.17" height="35.24" fill="#fff7ec"/>
<rect x="1514.45" y="535.58" width="31.17" height="35.24" fill="#feebcf"/>
<rect x="1545.62" y="535.58" width="31.17" height="35.24" fill="#fff7ec"/>
<rect x="1576.79" y="535.58" width="31.17" height="35.24" fill="#feebcf"/>
<rect x="1607.96" y="535.58" width="31.17" height="35.24" fill="#fff7ec"/>
<rect x="1639.13" y="535.58" width="31.17" height="35.24" fill="#fff7ec"/>
<rect x="1681.8" y="535.58" width="31.17" height="35.24" fill="#fff7ec"/>
<rect x="1712.97" y="535.58" width="31.17" height="35.24" fill="#fff7ec"/>
<rect x="1744.14" y="535.58" width="31.17" height="35.24" fill="#feeacc"/>
<rect x="1775.31" y="535.58" width="31.17" height="35.24" fill="#fff7ec"/>
<rect x="1806.48" y="535.58" width="31.17" height="35.24" fill="#feeacc"/>
<rect x="1837.65" y="535.58" width="31.17" height="35.24" fill="#fdce98"/>
<rect x="1868.82" y="535.58" width="31.17" height="35.24" fill="#fdd19b"/>
<rect x="1899.99" y="535.58" width="31.17" height="35.24" fill="#fff7ec"/>
<rect x="1931.16" y="535.58" width="31.17" height="35.24" fill="#fff7ec"/>
<rect x="1962.33" y="535.58" width="31.17" height="35.24" fill="#fee2bc"/>
<rect x="1358.6" y="570.82" width="31.17" height="35.24" fill="#fee9ca"/>
<rect x="1389.77" y="570.82" width="31.17" height="35.24" fill="#fff7ec"/>
<rect x="1420.94" y="570.82" width="31.17" height="35.24" fill="#fff7ec"/>
<rect x="1452.11" y="570.82" width="31.17" height="35.24" fill="#fff7ec"/>
<rect x="1483.28" y="570.82" width="31.17" height="35.24" fill="#fff7ec"/>
<rect x="1514.45" y="570.82" width="31.17" height="35.24" fill="#fdd9a8"/>
<rect x="1545.62" y="570.82" width="31.17" height="35.24" fill="#fff7ec"/>
<rect x="1576.79" y="570.82" width="31.17" height="35.24" fill="#fff7ec"/>
<rect x="1607.96" y="570.82" width="31.17" height="35.24" fill="#fff7ec"/>
<rect x="1639.13" y="570.82" width="31.17" height="35.24" fill="#fff7ec"/>
<rect x="1681.8" y="570.82" width="31.17" height="35.24" fill="#fff7ec"/>
<rect x="1712.97" y="570.82" width="31.17" height="35.24" fill="#fff7ec"/>
<rect x="1744.14" y="570.82" width="31.17" height="35.24" fill="#fee8c7"/>
<rect x="1775.31" y="570.82" width="31.17" height="35.24" fill="#fff7ec"/>
<rect x="1806.48" y="570.82" width="31.17" height="35.24" fill="#fff7ec"/>
<rect x="1837.65" y="570.82" width="31.17" height="35.24" fill="#fdd6a2"/>
<rect x="1868.82" y="570.82" width="31.17" height="35.24" fill="#fdd39d"/>
<rect x="1899.99" y="570.82" width="31.17" height="35.24" fill="#feeacc"/>
<rect x="1931.16" y="570.82" width="31.17" height="35.24" fill="#fff7ec"/>
<rect x="1962.33" y="570.82" width="31.17" height="35.24" fill="#fee2bc"/>
<rect x="1358.6" y="606.06" width="31.17" height="35.24" fill="#fdc68f"/>
<rect x="1389.77" y="606.06" width="31.17" height="35.24" fill="#fff7ec"/>
<rect x="1420.94" y="606.06" width="31.17" height="35.24" fill="#fff7ec"/>
<rect x="1452.11" y="606.06" width="31.17" height="35.24" fill="#fff7ec"/>
<rect x="1483.28" y="606.06" width="31.17" height="35.24" fill="#fff7ec"/>
<rect x="1514.45" y="606.06" width="31.17" height="35.24" fill="#fff7ec"/>
<rect x="1545.62" y="606.06" width="31.17" height="35.24" fill="#fff7ec"/>
<rect x="1576.79" y="606.06" width="31.17" height="35.24" fill="#fff7ec"/>
<rect x="1607.96" y="606.06" width="31.17" height="35.24" fill="#fff7ec"/>
<rect x="1639.13" y="606.06" width="31.17" height="35.24" fill="#fff7ec"/>
<rect x="1681.8" y="606.06" width="31.17" height="35.24" fill="#fff7ec"/>
<rect x="1712.97" y="606.06" width="31.17" height="35.24" fill="#fff7ec"/>
<rect x="1744.14" y="606.06" width="31.17" height="35.24" fill="#fff7ec"/>
<rect x="1775.31" y="606.06" width="31.17" height="35.24" fill="#fff7ec"/>
<rect x="1806.48" y="606.06" width="31.17" height="35.24" fill="#fff7ec"/>
<rect x="1837.65" y="606.06" width="31.17" height="35.24" fill="#fff7ec"/>
<rect x="1868.82" y="606.06" width="31.17" height="35.24" fill="#fff7ec"/>
<rect x="1899.99" y="606.06" width="31.17" height="35.24" fill="#fff7ec"/>
<rect x="1931.16" y="606.06" width="31.17" height="35.24" fill="#fff7ec"/>
<rect x="1962.33" y="606.06" width="31.17" height="35.24" fill="#fff7ec"/>
<rect x="1358.6" y="641.3" width="31.17" height="35.24" fill="#feebcf"/>
<rect x="1389.77" y="641.3" width="31.17" height="35.24" fill="#fee9ca"/>
<rect x="1420.94" y="641.3" width="31.17" height="35.24" fill="#fff5e7"/>
<rect x="1452.11" y="641.3" width="31.17" height="35.24" fill="#fdd9a8"/>
<rect x="1483.28" y="641.3" width="31.17" height="35.24" fill="#fdddb1"/>
<rect x="1514.45" y="641.3" width="31.17" height="35.24" fill="#fee8c7"/>
<rect x="1545.62" y="641.3" width="31.17" height="35.24" fill="#fee4bf"/>
<rect x="1576.79" y="641.3" width="31.17" height="35.24" fill="#feeacc"/>
<rect x="1607.96" y="641.3" width="31.17" height="35.24" fill="#fff5e7"/>
<rect x="1639.13" y="641.3" width="31.17" height="35.24" fill="#fff4e5"/>
<rect x="1681.8" y="641.3" width="31.17" height="35.24" fill="#fdd7a5"/>
<rect x="1712.97" y="641.3" width="31.17" height="35.24" fill="#fff5e7"/>
<rect x="1744.14" y="641.3" width="31.17" height="35.24" fill="#fff5e7"/>
<rect x="1775.31" y="641.3" width="31.17" height="35.24" fill="#fee8c7"/>
<rect x="1806.48" y="641.3" width="31.17" height="35.24" fill="#fee8c7"/>
<rect x="1837.65" y="641.3" width="31.17" height="35.24" fill="#fff5e7"/>
<rect x="1868.82" y="641.3" width="31.17" height="35.24" fill="#fff5e7"/>
<rect x="1899.99" y="641.3" width="31.17" height="35.24" fill="#fff5e7"/>
<rect x="1931.16" y="641.3" width="31.17" height="35.24" fill="#feeacc"/>
<rect x="1962.33" y="641.3" width="31.17" height="35.24" fill="#fff5e7"/>
<rect x="1358.6" y="676.54" width="31.17" height="35.24" fill="#fff7ec"/>
<rect x="1389.77" y="676.54" width="31.17" height="35.24" fill="#fff7ec"/>
<rect x="1420.94" y="676.54" width="31.17" height="35.24" fill="#fff7ec"/>
<rect x="1452.11" y="676.54" width="31.17" height="35.24" fill="#fff7ec"/>
<rect x="1483.28" y="676.54" width="31.17" height="35.24" fill="#fdc28b"/>
<rect x="1514.45" y="676.54" width="31.17" height="35.24" fill="#fff7ec"/>
<rect x="1545.62" y="676.54" width="31.17" height="35.24" fill="#fff7ec"/>
<rect x="1576.79" y="676.54" width="31.17" height="35.24" fill="#fff7ec"/>
<rect x="1607.96" y="676.54" width="31.17" height="35.24" fill="#fff7ec"/>
<rect x="1639.13" y="676.54" width="31.17" height="35.24" fill="#fff7ec"/>
<rect x="1681.8" y="676.54" width="31.17" height="35.24" fill="#fff7ec"/>
<rect x="1712.97" y="676.54" width="31.17" height="35.24" fill="#fff7ec"/>
<rect x="1744.14" y="676.54" width="31.17" height="35.24" fill="#fff7ec"/>
<rect x="1775.31" y="676.54" width="31.17" height="35.24" fill="#fff7ec"/>
<rect x="1806.48" y="676.54" width="31.17" height="35.24" fill="#fff7ec"/>
<rect x="1837.65" y="676.54" width="31.17" height="35.24" fill="#fff7ec"/>
<rect x="1868.82" y="676.54" width="31.17" height="35.24" fill="#feeacc"/>
<rect x="1899.99" y="676.54" width="31.17" height="35.24" fill="#fff7ec"/>
<rect x="1931.16" y="676.54" width="31.17" height="35.24" fill="#fff7ec"/>
<rect x="1962.33" y="676.54" width="31.17" height="35.24" fill="#fff7ec"/>
<rect x="1358.6" y="711.78" width="31.17" height="35.24" fill="#fff7ec"/>
<rect x="1389.77" y="711.78" width="31.17" height="35.24" fill="#fff4e5"/>
<rect x="1420.94" y="711.78" width="31.17" height="35.24" fill="#fee9ca"/>
<rect x="1452.11" y="711.78" width="31.17" height="35.24" fill="#fff4e5"/>
<rect x="1483.28" y="711.78" width="31.17" height="35.24" fill="#fff5e7"/>
<rect x="1514.45" y="711.78" width="31.17" height="35.24" fill="#fda670"/>
<rect x="1545.62" y="711.78" width="31.17" height="35.24" fill="#fff5e7"/>
<rect x="1576.79" y="711.78" width="31.17" height="35.24" fill="#fdbf88"/>
<rect x="1607.96" y="711.78" width="31.17" height="35.24" fill="#fff4e5"/>
<rect x="1639.13" y="711.78" width="31.17" height="35.24" fill="#fdd9a8"/>
<rect x="1681.8" y="711.78" width="31.17" height="35.24" fill="#feebcf"/>
<rect x="1712.97" y="711.78" width="31.17" height="35.24" fill="#fff5e7"/>
<rect x="1744.14" y="711.78" width="31.17" height="35.24" fill="#fdd9a8"/>
<rect x="1775.31" y="711.78" width="31.17" height="35.24" fill="#fddbae"/>
<rect x="1806.48" y="711.78" width="31.17" height="35.24" fill="#fc935f"/>
<rect x="1837.65" y="711.78" width="31.17" height="35.24" fill="#fff7ec"/>
<rect x="1868.82" y="711.78" width="31.17" height="35.24" fill="#fff7ec"/>
<rect x="1899.99" y="711.78" width="31.17" height="35.24" fill="#fff7ec"/>
<rect x="1931.16" y="711.78" width="31.17" height="35.24" fill="#fff7ec"/>
<rect x="1962.33" y="711.78" width="31.17" height="35.24" fill="#fff7ec"/>
<rect x="1358.6" y="747.02" width="31.17" height="35.24" fill="#fdbf88"/>
<rect x="1389.77" y="747.02" width="31.17" height="35.24" fill="#fff7ec"/>
<rect x="1420.94" y="747.02" width="31.17" height="35.24" fill="#fee8c7"/>
<rect x="1452.11" y="747.02" width="31.17" height="35.24" fill="#fff7ec"/>
<rect x="1483.28" y="747.02" width="31.17" height="35.24" fill="#fff7ec"/>
<rect x="1514.45" y="747.02" width="31.17" height="35.24" fill="#fdb982"/>
<rect x="1545.62" y="747.02" width="31.17" height="35.24" fill="#fff7ec"/>
<rect x="1576.79" y="747.02" width="31.17" height="35.24" fill="#fdc791"/>
<rect x="1607.96" y="747.02" width="31.17" height="35.24" fill="#fff7ec"/>
<rect x="1639.13" y="747.02" width="31.17" height="35.24" fill="#fdddb1"/>
<rect x="1681.8" y="747.02" width="31.17" height="35.24" fill="#feedd4"/>
<rect x="1712.97" y="747.02" width="31.17" height="35.24" fill="#fff7ec"/>
<rect x="1744.14" y="747.02" width="31.17" height="35.24" fill="#fee4bf"/>
<rect x="1775.31" y="747.02" width="31.17" height="35.24" fill="#fc935f"/>
<rect x="1806.48" y="747.02" width="31.17" height="35.24" fill="#fff6ea"/>
<rect x="1837.65" y="747.02" width="31.17" height="35.24" fill="#fff7ec"/>
<rect x="1868.82" y="747.02" width="31.17" height="35.24" fill="#fff7ec"/>
<rect x="1899.99" y="747.02" width="31.17" height="35.24" fill="#fff7ec"/>
<rect x="1931.16" y="747.02" width="31.17" height="35.24" fill="#fff7ec"/>
<rect x="1962.33" y="747.02" width="31.17" height="35.24" fill="#fff7ec"/>
<rect x="1358.6" y="782.26" width="31.17" height="35.24" fill="#fff5e7"/>
<rect x="1389.77" y="782.26" width="31.17" height="35.24" fill="#fff5e7"/>
<rect x="1420.94" y="782.26" width="31.17" height="35.24" fill="#fff5e7"/>
<rect x="1452.11" y="782.26" width="31.17" height="35.24" fill="#fff5e7"/>
<rect x="1483.28" y="782.26" width="31.17" height="35.24" fill="#fff5e7"/>
<rect x="1514.45" y="782.26" width="31.17" height="35.24" fill="#fff5e7"/>
<rect x="1545.62" y="782.26" width="31.17" height="35.24" fill="#fff5e7"/>
<rect x="1576.79" y="782.26" width="31.17" height="35.24" fill="#fff5e7"/>
<rect x="1607.96" y="782.26" width="31.17" height="35.24" fill="#fff5e7"/>
<rect x="1639.13" y="782.26" width="31.17" height="35.24" fill="#fff5e7"/>
<rect x="1681.8" y="782.26" width="31.17" height="35.24" fill="#fdc28b"/>
<rect x="1712.97" y="782.26" width="31.17" height="35.24" fill="#fff5e7"/>
<rect x="1744.14" y="782.26" width="31.17" height="35.24" fill="#fca36d"/>
<rect x="1775.31" y="782.26" width="31.17" height="35.24" fill="#feebcf"/>
<rect x="1806.48" y="782.26" width="31.17" height="35.24" fill="#fc905c"/>
<rect x="1837.65" y="782.26" width="31.17" height="35.24" fill="#fff7ec"/>
<rect x="1868.82" y="782.26" width="31.17" height="35.24" fill="#fff7ec"/>
<rect x="1899.99" y="782.26" width="31.17" height="35.24" fill="#fff7ec"/>
<rect x="1931.16" y="782.26" width="31.17" height="35.24" fill="#fff7ec"/>
<rect x="1962.33" y="782.26" width="31.17" height="35.24" fill="#fff7ec"/>
<rect x="1358.6" y="817.5" width="31.17" height="35.24" fill="#fdcb94"/>
<rect x="1389.77" y="817.5" width="31.17" height="35.24" fill="#fdbd86"/>
<rect x="1420.94" y="817.5" width="31.17" height="35.24" fill="#feeacc"/>
<rect x="1452.11" y="817.5" width="31.17" height="35.24" fill="#fee1b9"/>
<rect x="1483.28" y="817.5" width="31.17" height="35.24" fill="#fff5e7"/>
<rect x="1514.45" y="817.5" width="31.17" height="35.24" fill="#fee8c7"/>
<rect x="1545.62" y="817.5" width="31.17" height="35.24" fill="#fff7ec"/>
<rect x="1576.79" y="817.5" width="31.17" height="35.24" fill="#fff7ec"/>
<rect x="1607.96" y="817.5" width="31.17" height="35.24" fill="#fff7ec"/>
<rect x="1639.13" y="817.5" width="31.17" height="35.24" fill="#fff7ec"/>
<rect x="1681.8" y="817.5" width="31.17" height="35.24" fill="#fff4e5"/>
<rect x="1712.97" y="817.5" width="31.17" height="35.24" fill="#fff7ec"/>
<rect x="1744.14" y="817.5" width="31.17" height="35.24" fill="#fdcc96"/>
<rect x="1775.31" y="817.5" width="31.17" height="35.24" fill="#fee4bf"/>
<rect x="1806.48" y="817.5" width="31.17" height="35.24" fill="#fee4bf"/>
<rect x="1837.65" y="817.5" width="31.17" height="35.24" fill="#fff7ec"/>
<rect x="1868.82" y="817.5" width="31.17" height="35.24" fill="#fff7ec"/>
<rect x="1899.99" y="817.5" width="31.17" height="35.24" fill="#fff7ec"/>
<rect x="1931.16" y="817.5" width="31.17" height="35.24" fill="#fee1b9"/>
<rect x="1962.33" y="817.5" width="31.17" height="35.24" fill="#fff7ec"/>
<rect x="1358.6" y="852.74" width="31.17" height="35.24" fill="#fee1b9"/>
<rect x="1389.77" y="852.74" width="31.17" height="35.24" fill="#fff5e7"/>
<rect x="1420.94" y="852.74" width="31.17" height="35.24" fill="#fee1b9"/>
<rect x="1452.11" y="852.74" width="31.17" height="35.24" fill="#fff5e7"/>
<rect x="1483.28" y="852.74" width="31.17" height="35.24" fill="#fedeb3"/>
<rect x="1514.45" y="852.74" width="31.17" height="35.24" fill="#fff7ec"/>
<rect x="1545.62" y="852.74" width="31.17" height="35.24" fill="#fff7ec"/>
<rect x="1576.79" y="852.74" width="31.17" height="35.24" fill="#fff7ec"/>
<rect x="1607.96" y="852.74" width="31.17" height="35.24" fill="#fff7ec"/>
<rect x="1639.13" y="852.74" width="31.17" height="35.24" fill="#fff7ec"/>
<rect x="1681.8" y="852.74" width="31.17" height="35.24" fill="#fff7ec"/>
<rect x="1712.97" y="852.74" width="31.17" height="35.24" fill="#fff7ec"/>
<rect x="1744.14" y="852.74" width="31.17" height="35.24" fill="#fc9965"/>
<rect x="1775.31" y="852.74" width="31.17" height="35.24" fill="#fddaab"/>
<rect x="1806.48" y="852.74" width="31.17" height="35.24" fill="#fff5e7"/>
<rect x="1837.65" y="852.74" width="31.17" height="35.24" fill="#fff7ec"/>
<rect x="1868.82" y="852.74" width="31.17" height="35.24" fill="#fff7ec"/>
<rect x="1899.99" y="852.74" width="31.17" height="35.24" fill="#fff7ec"/>
<rect x="1931.16" y="852.74" width="31.17" height="35.24" fill="#fff7ec"/>
<rect x="1962.33" y="852.74" width="31.17" height="35.24" fill="#fff7ec"/>
<rect x="1358.6" y="887.98" width="31.17" height="35.24" fill="#fff5e7"/>
<rect x="1389.77" y="887.98" width="31.17" height="35.24" fill="#f88254"/>
<rect x="1420.94" y="887.98" width="31.17" height="35.24" fill="#fdce98"/>
<rect x="1452.11" y="887.98" width="31.17" height="35.24" fill="#fff5e7"/>
<rect x="1483.28" y="887.98" width="31.17" height="35.24" fill="#f87f53"/>
<rect x="1514.45" y="887.98" width="31.17" height="35.24" fill="#fff7ec"/>
<rect x="1545.62" y="887.98" width="31.17" height="35.24" fill="#fff7ec"/>
<rect x="1576.79" y="887.98" width="31.17" height="35.24" fill="#fff7ec"/>
<rect x="1607.96" y="887.98" width="31.17" height="35.24" fill="#fff7ec"/>
<rect x="1639.13" y="887.98" width="31.17" height="35.24" fill="#feebcf"/>
<rect x="1681.8" y="887.98" width="31.17" height="35.24" fill="#fff7ec"/>
<rect x="1712.97" y="887.98" width="31.17" height="35.24" fill="#fff7ec"/>
<rect x="1744.14" y="887.98" width="31.17" height="35.24" fill="#fff7ec"/>
<rect x="1775.31" y="887.98" width="31.17" height="35.24" fill="#feeacc"/>
<rect x="1806.48" y="887.98" width="31.17" height="35.24" fill="#fdc18a"/>
<rect x="1837.65" y="887.98" width="31.17" height="35.24" fill="#fff7ec"/>
<rect x="1868.82" y="887.98" width="31.17" height="35.24" fill="#fff7ec"/>
<rect x="1899.99" y="887.98" width="31.17" height="35.24" fill="#fff7ec"/>
<rect x="1931.16" y="887.98" width="31.17" height="35.24" fill="#fff7ec"/>
<rect x="1962.33" y="887.98" width="31.17" height="35.24" fill="#fff7ec"/>
<rect x="1358.6" y="923.22" width="31.17" height="35.24" fill="#feedd4"/>
<rect x="1389.77" y="923.22" width="31.17" height="35.24" fill="#f98556"/>
<rect x="1420.94" y="923.22" width="31.17" height="35.24" fill="#fdd59f"/>
<rect x="1452.11" y="923.22" width="31.17" height="35.24" fill="#fff5e7"/>
<rect x="1483.28" y="923.22" width="31.17" height="35.24" fill="#f4754f"/>
<rect x="1514.45" y="923.22" width="31.17" height="35.24" fill="#fee8c7"/>
<rect x="1545.62" y="923.22" width="31.17" height="35.24" fill="#fee1b9"/>
<rect x="1576.79" y="923.22" width="31.17" height="35.24" fill="#fff5e7"/>
<rect x="1607.96" y="923.22" width="31.17" height="35.24" fill="#fff5e7"/>
<rect x="1639.13" y="923.22" width="31.17" height="35.24" fill="#fff5e7"/>
<rect x="1681.8" y="923.22" width="31.17" height="35.24" fill="#fff7ec"/>
<rect x="1712.97" y="923.22" width="31.17" height="35.24" fill="#fff7ec"/>
<rect x="1744.14" y="923.22" width="31.17" height="35.24" fill="#fdd6a2"/>
<rect x="1775.31" y="923.22" width="31.17" height="35.24" fill="#fdcc96"/>
<rect x="1806.48" y="923.22" width="31.17" height="35.24" fill="#feebcf"/>
<rect x="1837.65" y="923.22" width="31.17" height="35.24" fill="#fff7ec"/>
<rect x="1868.82" y="923.22" width="31.17" height="35.24" fill="#fee8c7"/>
<rect x="1899.99" y="923.22" width="31.17" height="35.24" fill="#fdbb84"/>
<rect x="1931.16" y="923.22" width="31.17" height="35.24" fill="#fff7ec"/>
<rect x="1962.33" y="923.22" width="31.17" height="35.24" fill="#fff7ec"/>
<rect x="1358.6" y="958.46" width="31.17" height="35.24" fill="#feeacc"/>
<rect x="1389.77" y="958.46" width="31.17" height="35.24" fill="#f06749"/>
<rect x="1420.94" y="958.46" width="31.17" height="35.24" fill="#feebcf"/>
<rect x="1452.11" y="958.46" width="31.17" height="35.24" fill="#fee1b9"/>
<rect x="1483.28" y="958.46" width="31.17" height="35.24" fill="#f88254"/>
<rect x="1514.45" y="958.46" width="31.17" height="35.24" fill="#feedd4"/>
<rect x="1545.62" y="958.46" width="31.17" height="35.24" fill="#feebcf"/>
<rect x="1576.79" y="958.46" width="31.17" height="35.24" fill="#fee8c7"/>
<rect x="1607.96" y="958.46" width="31.17" height="35.24" fill="#fff5e7"/>
<rect x="1639.13" y="958.46" width="31.17" height="35.24" fill="#fdd6a2"/>
<rect x="1681.8" y="958.46" width="31.17" height="35.24" fill="#fee5c2"/>
<rect x="1712.97" y="958.46" width="31.17" height="35.24" fill="#feeacc"/>
<rect x="1744.14" y="958.46" width="31.17" height="35.24" fill="#fdd09a"/>
<rect x="1775.31" y="958.46" width="31.17" height="35.24" fill="#fdddb1"/>
<rect x="1806.48" y="958.46" width="31.17" height="35.24" fill="#fdddb1"/>
<rect x="1837.65" y="958.46" width="31.17" height="35.24" fill="#fddbae"/>
<rect x="1868.82" y="958.46" width="31.17" height="35.24" fill="#fff4e5"/>
<rect x="1899.99" y="958.46" width="31.17" height="35.24" fill="#fa8857"/>
<rect x="1931.16" y="958.46" width="31.17" height="35.24" fill="#fee6c4"/>
<rect x="1962.33" y="958.46" width="31.17" height="35.24" fill="#fff5e7"/>
<rect x="1358.6" y="993.7" width="31.17" height="35.24" fill="#f16a4a"/>
<rect x="1389.77" y="993.7" width="31.17" height="35.24" fill="#feedd4"/>
<rect x="1420.94" y="993.7" width="31.17" height="35.24" fill="#feeacc"/>
<rect x="1452.11" y="993.7" width="31.17" height="35.24" fill="#fff4e5"/>
<rect x="1483.28" y="993.7" width="31.17" height="35.24" fill="#fff4e5"/>
<rect x="1514.45" y="993.7" width="31.17" height="35.24" fill="#fff5e7"/>
<rect x="1545.62" y="993.7" width="31.17" height="35.24" fill="#fff5e7"/>
<rect x="1576.79" y="993.7" width="31.17" height="35.24" fill="#fff5e7"/>
<rect x="1607.96" y="993.7" width="31.17" height="35.24" fill="#fff5e7"/>
<rect x="1639.13" y="993.7" width="31.17" height="35.24" fill="#fff5e7"/>
<rect x="1681.8" y="993.7" width="31.17" height="35.24" fill="#fff7ec"/>
<rect x="1712.97" y="993.7" width="31.17" height="35.24" fill="#fff7ec"/>
<rect x="1744.14" y="993.7" width="31.17" height="35.24" fill="#fee9ca"/>
<rect x="1775.31" y="993.7" width="31.17" height="35.24" fill="#feeacc"/>
<rect x="1806.48" y="993.7" width="31.17" height="35.24" fill="#fff7ec"/>
<rect x="1837.65" y="993.7" width="31.17" height="35.24" fill="#fff7ec"/>
<rect x="1868.82" y="993.7" width="31.17" height="35.24" fill="#fff7ec"/>
<rect x="1899.99" y="993.7" width="31.17" height="35.24" fill="#fdbf88"/>
<rect x="1931.16" y="993.7" width="31.17" height="35.24" fill="#fdc28b"/>
<rect x="1962.33" y="993.7" width="31.17" height="35.24" fill="#fff7ec"/>
<rect x="1358.6" y="1028.94" width="31.17" height="35.24" fill="#fee6c4"/>
<rect x="1389.77" y="1028.94" width="31.17" height="35.24" fill="#fdaf79"/>
<rect x="1420.94" y="1028.94" width="31.17" height="35.24" fill="#fdd6a2"/>
<rect x="1452.11" y="1028.94" width="31.17" height="35.24" fill="#fff4e5"/>
<rect x="1483.28" y="1028.94" width="31.17" height="35.24" fill="#fc905c"/>
<rect x="1514.45" y="1028.94" width="31.17" height="35.24" fill="#fff5e7"/>
<rect x="1545.62" y="1028.94" width="31.17" height="35.24" fill="#feebcf"/>
<rect x="1576.79" y="1028.94" width="31.17" height="35.24" fill="#fff5e7"/>
<rect x="1607.96" y="1028.94" width="31.17" height="35.24" fill="#fff5e7"/>
<rect x="1639.13" y="1028.94" width="31.17" height="35.24" fill="#fff4e5"/>
<rect x="1681.8" y="1028.94" width="31.17" height="35.24" fill="#fff7ec"/>
<rect x="1712.97" y="1028.94" width="31.17" height="35.24" fill="#fff7ec"/>
<rect x="1744.14" y="1028.94" width="31.17" height="35.24" fill="#fdcb94"/>
<rect x="1775.31" y="1028.94" width="31.17" height="35.24" fill="#fee9ca"/>
<rect x="1806.48" y="1028.94" width="31.17" height="35.24" fill="#fff7ec"/>
<rect x="1837.65" y="1028.94" width="31.17" height="35.24" fill="#fedeb3"/>
<rect x="1868.82" y="1028.94" width="31.17" height="35.24" fill="#fb8a58"/>
<rect x="1899.99" y="1028.94" width="31.17" height="35.24" fill="#fdddb1"/>
<rect x="1931.16" y="1028.94" width="31.17" height="35.24" fill="#fdddb1"/>
<rect x="1962.33" y="1028.94" width="31.17" height="35.24" fill="#fff7ec"/>
<rect x="1358.6" y="1064.18" width="31.17" height="35.24" fill="#fff4e5"/>
<rect x="1389.77" y="1064.18" width="31.17" height="35.24" fill="#fee6c4"/>
<rect x="1420.94" y="1064.18" width="31.17" height="35.24" fill="#fee1b9"/>
<rect x="1452.11" y="1064.18" width="31.17" height="35.24" fill="#fee4bf"/>
<rect x="1483.28" y="1064.18" width="31.17" height="35.24" fill="#feefd8"/>
<rect x="1514.45" y="1064.18" width="31.17" height="35.24" fill="#fdd39d"/>
<rect x="1545.62" y="1064.18" width="31.17" height="35.24" fill="#fddbae"/>
<rect x="1576.79" y="1064.18" width="31.17" height="35.24" fill="#fee6c4"/>
<rect x="1607.96" y="1064.18" width="31.17" height="35.24" fill="#fff4e5"/>
<rect x="1639.13" y="1064.18" width="31.17" height="35.24" fill="#fee6c4"/>
<rect x="1681.8" y="1064.18" width="31.17" height="35.24" fill="#fdd9a8"/>
<rect x="1712.97" y="1064.18" width="31.17" height="35.24" fill="#fdddb1"/>
<rect x="1744.14" y="1064.18" width="31.17" height="35.24" fill="#fff2e0"/>
<rect x="1775.31" y="1064.18" width="31.17" height="35.24" fill="#fff4e5"/>
<rect x="1806.48" y="1064.18" width="31.17" height="35.24" fill="#fff4e5"/>
<rect x="1837.65" y="1064.18" width="31.17" height="35.24" fill="#fdd9a8"/>
<rect x="1868.82" y="1064.18" width="31.17" height="35.24" fill="#fdd09a"/>
<rect x="1899.99" y="1064.18" width="31.17" height="35.24" fill="#fee1b9"/>
<rect x="1931.16" y="1064.18" width="31.17" height="35.24" fill="#fee1b9"/>
<rect x="1962.33" y="1064.18" width="31.17" height="35.24" fill="#feebcf"/>
<rect x="1358.6" y="1099.42" width="31.17" height="35.24" fill="#feebcf"/>
<rect x="1389.77" y="1099.42" width="31.17" height="35.24" fill="#feebcf"/>
<rect x="1420.94" y="1099.42" width="31.17" height="35.24" fill="#fff4e5"/>
<rect x="1452.11" y="1099.42" width="31.17" height="35.24" fill="#fff5e7"/>
<rect x="1483.28" y="1099.42" width="31.17" height="35.24" fill="#e65239"/>
<rect x="1514.45" y="1099.42" width="31.17" height="35.24" fill="#fee9ca"/>
<rect x="1545.62" y="1099.42" width="31.17" height="35.24" fill="#fff5e7"/>
<rect x="1576.79" y="1099.42" width="31.17" height="35.24" fill="#fff4e5"/>
<rect x="1607.96" y="1099.42" width="31.17" height="35.24" fill="#fff4e5"/>
<rect x="1639.13" y="1099.42" width="31.17" height="35.24" fill="#fee9ca"/>
<rect x="1681.8" y="1099.42" width="31.17" height="35.24" fill="#feefd8"/>
<rect x="1712.97" y="1099.42" width="31.17" height="35.24" fill="#fdc791"/>
<rect x="1744.14" y="1099.42" width="31.17" height="35.24" fill="#fda670"/>
<rect x="1775.31" y="1099.42" width="31.17" height="35.24" fill="#fdbd86"/>
<rect x="1806.48" y="1099.42" width="31.17" height="35.24" fill="#fdc28b"/>
<rect x="1837.65" y="1099.42" width="31.17" height="35.24" fill="#fdb982"/>
<rect x="1868.82" y="1099.42" width="31.17" height="35.24" fill="#fdc791"/>
<rect x="1899.99" y="1099.42" width="31.17" height="35.24" fill="#7f0000"/>
<rect x="1931.16" y="1099.42" width="31.17" height="35.24" fill="#fdb982"/>
<rect x="1962.33" y="1099.42" width="31.17" height="35.24" fill="#fff4e5"/>
<rect x="1358.6" y="1134.66" width="31.17" height="35.24" fill="#feeacc"/>
<rect x="1389.77" y="1134.66" width="31.17" height="35.24" fill="#ef6447"/>
<rect x="1420.94" y="1134.66" width="31.17" height="35.24" fill="#fc9662"/>
<rect x="1452.11" y="1134.66" width="31.17" height="35.24" fill="#fdddb1"/>
<rect x="1483.28" y="1134.66" width="31.17" height="35.24" fill="#e54f37"/>
<rect x="1514.45" y="1134.66" width="31.17" height="35.24" fill="#fdc993"/>
<rect x="1545.62" y="1134.66" width="31.17" height="35.24" fill="#fff4e5"/>
<rect x="1576.79" y="1134.66" width="31.17" height="35.24" fill="#fee6c4"/>
<rect x="1607.96" y="1134.66" width="31.17" height="35.24" fill="#fee5c2"/>
<rect x="1639.13" y="1134.66" width="31.17" height="35.24" fill="#fdc993"/>
<rect x="1681.8" y="1134.66" width="31.17" height="35.24" fill="#d83220"/>
<rect x="1712.97" y="1134.66" width="31.17" height="35.24" fill="#feedd4"/>
<rect x="1744.14" y="1134.66" width="31.17" height="35.24" fill="#f98556"/>
<rect x="1775.31" y="1134.66" width="31.17" height="35.24" fill="#fdddb1"/>
<rect x="1806.48" y="1134.66" width="31.17" height="35.24" fill="#fdddb1"/>
<rect x="1837.65" y="1134.66" width="31.17" height="35.24" fill="#fdd6a2"/>
<rect x="1868.82" y="1134.66" width="31.17" height="35.24" fill="#feebcf"/>
<rect x="1899.99" y="1134.66" width="31.17" height="35.24" fill="#f88254"/>
<rect x="1931.16" y="1134.66" width="31.17" height="35.24" fill="#fff4e5"/>
<rect x="1962.33" y="1134.66" width="31.17" height="35.24" fill="#fff4e5"/>
</g>
<rect x="1358.6" y="74" width="311.7" height="29.3" fill="#27a0e4" stroke="#8a9098" stroke-width="1.4"/>
<g stroke="#7a7a7a" stroke-opacity="0.45" stroke-width="1.2">
<line x1="1389.77" y1="74" x2="1389.77" y2="103.3"/>
<line x1="1420.94" y1="74" x2="1420.94" y2="103.3"/>
<line x1="1452.11" y1="74" x2="1452.11" y2="103.3"/>
<line x1="1483.28" y1="74" x2="1483.28" y2="103.3"/>
<line x1="1514.45" y1="74" x2="1514.45" y2="103.3"/>
<line x1="1545.62" y1="74" x2="1545.62" y2="103.3"/>
<line x1="1576.79" y1="74" x2="1576.79" y2="103.3"/>
<line x1="1607.96" y1="74" x2="1607.96" y2="103.3"/>
<line x1="1639.13" y1="74" x2="1639.13" y2="103.3"/>
</g>
<rect x="1681.8" y="74" width="311.7" height="29.3" fill="#e8344b" stroke="#8a9098" stroke-width="1.4"/>
<g stroke="#7a7a7a" stroke-opacity="0.45" stroke-width="1.2">
<line x1="1712.97" y1="74" x2="1712.97" y2="103.3"/>
<line x1="1744.14" y1="74" x2="1744.14" y2="103.3"/>
<line x1="1775.31" y1="74" x2="1775.31" y2="103.3"/>
<line x1="1806.48" y1="74" x2="1806.48" y2="103.3"/>
<line x1="1837.65" y1="74" x2="1837.65" y2="103.3"/>
<line x1="1868.82" y1="74" x2="1868.82" y2="103.3"/>
<line x1="1899.99" y1="74" x2="1899.99" y2="103.3"/>
<line x1="1931.16" y1="74" x2="1931.16" y2="103.3"/>
<line x1="1962.33" y1="74" x2="1962.33" y2="103.3"/>
</g>
<g font-family="Liberation Sans, Arial, sans-serif" font-size="29" fill="#111" stroke="#111" stroke-width="0.35">
<text x="2001.5" y="140.7">Avian leukosis virus</text>
<text x="2001.5" y="175.94">unclassified Alpharetrovirus species</text>
<text x="2001.5" y="211.18">Shelduck calicivirus</text>
<text x="2001.5" y="246.42">unclassified Caliciviridae species</text>
<text x="2001.5" y="281.66">Rotavirus F</text>
<text x="2001.5" y="316.9">Duck calicivirus</text>
<text x="2001.5" y="352.14">unclassified Fijivirus species</text>
<text x="2001.5" y="387.38">Duck calicivirus 2</text>
<text x="2001.5" y="422.62">unclassified Vesivirus species</text>
<text x="2001.5" y="457.86">unclassified Picornaviridae species</text>
<text x="2001.5" y="493.1">Duck astrovirus CPH</text>
<text x="2001.5" y="528.34">unclassified Retroviridae species</text>
<text x="2001.5" y="563.58">unclassified Astroviridae species</text>
<text x="2001.5" y="598.82">unclassified Avastrovirus species</text>
<text x="2001.5" y="634.06">Y73 sarcoma virus</text>
<text x="2001.5" y="669.3">Retroviridae sp.</text>
<text x="2001.5" y="704.54">Shelduck picobirnavirus II</text>
<text x="2001.5" y="739.78">Caliciviridae sp.</text>
<text x="2001.5" y="775.02">unclassified Sapovirus species</text>
<text x="2001.5" y="810.26">Avian orthoreovirus</text>
<text x="2001.5" y="845.5">Fujinami sarcoma virus</text>
<text x="2001.5" y="880.74">Picobirnavirus wolf/PRT/189/2015</text>
<text x="2001.5" y="915.98">Avian carcinoma virus</text>
<text x="2001.5" y="951.22">Chicken picobirnavirus</text>
<text x="2001.5" y="986.46">unclassified Picobirnavirus species</text>
<text x="2001.5" y="1021.7">Grey teal calicivirus</text>
<text x="2001.5" y="1056.94">Picobirnavirus sp.</text>
<text x="2001.5" y="1092.18">unclassified Gammaretrovirus species</text>
<text x="2001.5" y="1127.42">Avian sapelovirus</text>
<text x="2001.5" y="1162.66">unclassified Picobirnaviridae species</text>
<text x="2001.5" y="99.3">Species</text>
</g>
<g stroke="#383838" stroke-width="2.0" stroke-linecap="square" fill="none">
<line x1="1318.3" y1="183" x2="1318.3" y2="957.9"/>
<line x1="1318.3" y1="183" x2="1331.4" y2="183"/>
<line x1="1318.3" y1="957.9" x2="1331.1" y2="957.9"/>
<line x1="1331.4" y1="148" x2="1331.4" y2="218.4"/>
<line x1="1331.4" y1="148" x2="1355.2" y2="148"/>
<line x1="1331.4" y1="218.4" x2="1348.5" y2="218.4"/>
<line x1="1355.2" y1="130.32" x2="1355.2" y2="165.56"/>
<line x1="1355.2" y1="130.32" x2="1358.6" y2="130.32"/>
<line x1="1355.2" y1="165.56" x2="1358.6" y2="165.56"/>
<line x1="1348.5" y1="200.8" x2="1348.5" y2="236.04"/>
<line x1="1348.5" y1="200.8" x2="1358.6" y2="200.8"/>
<line x1="1348.5" y1="236.04" x2="1358.6" y2="236.04"/>
<line x1="1331.1" y1="781" x2="1331.1" y2="1134.8"/>
<line x1="1331.1" y1="781" x2="1337.9" y2="781"/>
<line x1="1331.1" y1="1134.8" x2="1337.2" y2="1134.8"/>
<line x1="1337.2" y1="1117.04" x2="1337.2" y2="1152.28"/>
<line x1="1337.2" y1="1117.04" x2="1358.6" y2="1117.04"/>
<line x1="1337.2" y1="1152.28" x2="1358.6" y2="1152.28"/>
<line x1="1337.9" y1="576.9" x2="1337.9" y2="984.8"/>
<line x1="1337.9" y1="576.9" x2="1342.4" y2="576.9"/>
<line x1="1337.9" y1="984.8" x2="1340.8" y2="984.8"/>
<line x1="1340.8" y1="931.6" x2="1340.8" y2="1038"/>
<line x1="1340.8" y1="931.6" x2="1347" y2="931.6"/>
<line x1="1340.8" y1="1038" x2="1343.7" y2="1038"/>
<line x1="1347" y1="905.6" x2="1347" y2="958.5"/>
<line x1="1347" y1="905.6" x2="1358.6" y2="905.6"/>
<line x1="1347" y1="958.5" x2="1350.7" y2="958.5"/>
<line x1="1350.7" y1="940.84" x2="1350.7" y2="976.08"/>
<line x1="1350.7" y1="940.84" x2="1358.6" y2="940.84"/>
<line x1="1350.7" y1="976.08" x2="1358.6" y2="976.08"/>
<line x1="1343.7" y1="1011.32" x2="1343.7" y2="1064.3"/>
<line x1="1343.7" y1="1011.32" x2="1358.6" y2="1011.32"/>
<line x1="1343.7" y1="1064.3" x2="1347" y2="1064.3"/>
<line x1="1347" y1="1046.56" x2="1347" y2="1081.8"/>
<line x1="1347" y1="1046.56" x2="1358.6" y2="1046.56"/>
<line x1="1347" y1="1081.8" x2="1358.6" y2="1081.8"/>
<line x1="1342.4" y1="367.3" x2="1342.4" y2="786.5"/>
<line x1="1345.4" y1="271.28" x2="1345.4" y2="358.4"/>
<line x1="1345.4" y1="271.28" x2="1358.6" y2="271.28"/>
<line x1="1350.7" y1="306.52" x2="1350.7" y2="341.76"/>
<line x1="1350.7" y1="306.52" x2="1358.6" y2="306.52"/>
<line x1="1350.7" y1="341.76" x2="1358.6" y2="341.76"/>
<line x1="1346.5" y1="324.1" x2="1350.7" y2="324.1"/>
<line x1="1346.5" y1="324.1" x2="1346.5" y2="520"/>
<line x1="1350.7" y1="377" x2="1350.7" y2="412.24"/>
<line x1="1350.7" y1="377" x2="1358.6" y2="377"/>
<line x1="1350.7" y1="412.24" x2="1358.6" y2="412.24"/>
<line x1="1347.5" y1="394.6" x2="1350.7" y2="394.6"/>
<line x1="1347.5" y1="394.6" x2="1347.5" y2="600"/>
<line x1="1350.7" y1="447.48" x2="1358.6" y2="447.48"/>
<line x1="1350.7" y1="447.48" x2="1350.7" y2="465"/>
<line x1="1347.5" y1="465" x2="1350.7" y2="465"/>
<line x1="1354.5" y1="482.72" x2="1354.5" y2="517.96"/>
<line x1="1354.5" y1="482.72" x2="1358.6" y2="482.72"/>
<line x1="1354.5" y1="517.96" x2="1358.6" y2="517.96"/>
<line x1="1349.5" y1="500.3" x2="1354.5" y2="500.3"/>
<line x1="1356.5" y1="553.2" x2="1356.5" y2="588.44"/>
<line x1="1356.5" y1="553.2" x2="1358.6" y2="553.2"/>
<line x1="1356.5" y1="588.44" x2="1358.6" y2="588.44"/>
<line x1="1349.5" y1="570.8" x2="1356.5" y2="570.8"/>
<line x1="1349.5" y1="480" x2="1349.5" y2="606"/>
<line x1="1350.7" y1="623.68" x2="1358.6" y2="623.68"/>
<line x1="1350.7" y1="623.68" x2="1350.7" y2="694.16"/>
<line x1="1350.7" y1="658.92" x2="1358.6" y2="658.92"/>
<line x1="1350.7" y1="694.16" x2="1358.6" y2="694.16"/>
<line x1="1343.2" y1="660" x2="1350.7" y2="660"/>
<line x1="1343.2" y1="600" x2="1343.2" y2="824.8"/>
<line x1="1349.2" y1="729.4" x2="1349.2" y2="764.64"/>
<line x1="1349.2" y1="729.4" x2="1358.6" y2="729.4"/>
<line x1="1349.2" y1="764.64" x2="1358.6" y2="764.64"/>
<line x1="1343.2" y1="747" x2="1349.2" y2="747"/>
<line x1="1347" y1="799.88" x2="1347" y2="852.8"/>
<line x1="1347" y1="799.88" x2="1358.6" y2="799.88"/>
<line x1="1343.2" y1="824.8" x2="1347" y2="824.8"/>
<line x1="1350.7" y1="835.12" x2="1350.7" y2="870.36"/>
<line x1="1350.7" y1="835.12" x2="1358.6" y2="835.12"/>
<line x1="1350.7" y1="870.36" x2="1358.6" y2="870.36"/>
<line x1="1347" y1="852.8" x2="1350.7" y2="852.8"/>
</g>
<rect x="1342.2" y="362" width="4.6" height="98" fill="#444"/>
<rect x="1346.6" y="482" width="3.8" height="82" fill="#444"/>
<defs><linearGradient id="g93" x1="0" x2="1" y1="0" y2="0"><stop offset="0" stop-color="#fff7ec"/><stop offset="0.04" stop-color="#fff2e0"/><stop offset="0.08" stop-color="#feedd4"/><stop offset="0.12" stop-color="#fee8c8"/><stop offset="0.17" stop-color="#fee1ba"/><stop offset="0.21" stop-color="#fddbac"/><stop offset="0.25" stop-color="#fdd49e"/><stop offset="0.29" stop-color="#fdcc95"/><stop offset="0.33" stop-color="#fdc38d"/><stop offset="0.38" stop-color="#fdbb84"/><stop offset="0.42" stop-color="#fdac76"/><stop offset="0.46" stop-color="#fc9c67"/><stop offset="0.5" stop-color="#fc8d59"/><stop offset="0.54" stop-color="#f88053"/><stop offset="0.58" stop-color="#f3724e"/><stop offset="0.62" stop-color="#ef6548"/><stop offset="0.67" stop-color="#e7533a"/><stop offset="0.71" stop-color="#df422d"/><stop offset="0.75" stop-color="#d7301f"/><stop offset="0.79" stop-color="#cb2015"/><stop offset="0.83" stop-color="#bf100a"/><stop offset="0.88" stop-color="#b30000"/><stop offset="0.92" stop-color="#a20000"/><stop offset="0.96" stop-color="#900000"/><stop offset="1" stop-color="#7f0000"/></linearGradient></defs>
<rect x="93" y="1251" width="435" height="28" fill="url(#g93)"/>
<g font-family="Liberation Sans, Arial, sans-serif" font-size="29" fill="#1a1a1a" stroke="#1a1a1a" stroke-width="0.35">
<text x="160.5" y="1237">Log2(Reads count + 1)</text>
<text x="93" y="1308" text-anchor="middle">0</text>
<text x="166.6" y="1308" text-anchor="middle">2</text>
<text x="240.2" y="1308" text-anchor="middle">4</text>
<text x="313.8" y="1308" text-anchor="middle">6</text>
<text x="387.4" y="1308" text-anchor="middle">8</text>
<text x="461" y="1308" text-anchor="middle">10</text>
</g>
<defs><linearGradient id="g1370" x1="0" x2="1" y1="0" y2="0"><stop offset="0" stop-color="#fff7ec"/><stop offset="0.04" stop-color="#fff2e0"/><stop offset="0.08" stop-color="#feedd4"/><stop offset="0.12" stop-color="#fee8c8"/><stop offset="0.17" stop-color="#fee1ba"/><stop offset="0.21" stop-color="#fddbac"/><stop offset="0.25" stop-color="#fdd49e"/><stop offset="0.29" stop-color="#fdcc95"/><stop offset="0.33" stop-color="#fdc38d"/><stop offset="0.38" stop-color="#fdbb84"/><stop offset="0.42" stop-color="#fdac76"/><stop offset="0.46" stop-color="#fc9c67"/><stop offset="0.5" stop-color="#fc8d59"/><stop offset="0.54" stop-color="#f88053"/><stop offset="0.58" stop-color="#f3724e"/><stop offset="0.62" stop-color="#ef6548"/><stop offset="0.67" stop-color="#e7533a"/><stop offset="0.71" stop-color="#df422d"/><stop offset="0.75" stop-color="#d7301f"/><stop offset="0.79" stop-color="#cb2015"/><stop offset="0.83" stop-color="#bf100a"/><stop offset="0.88" stop-color="#b30000"/><stop offset="0.92" stop-color="#a20000"/><stop offset="0.96" stop-color="#900000"/><stop offset="1" stop-color="#7f0000"/></linearGradient></defs>
<rect x="1370" y="1251" width="433" height="28" fill="url(#g1370)"/>
<g font-family="Liberation Sans, Arial, sans-serif" font-size="29" fill="#1a1a1a" stroke="#1a1a1a" stroke-width="0.35">
<text x="1482.5" y="1237">Log2(Reads count + 1)</text>
<text x="1367" y="1308" text-anchor="middle">0</text>
<text x="1440.6" y="1308" text-anchor="middle">2</text>
<text x="1514.2" y="1308" text-anchor="middle">4</text>
<text x="1587.8" y="1308" text-anchor="middle">6</text>
<text x="1661.4" y="1308" text-anchor="middle">8</text>
<text x="1735" y="1308" text-anchor="middle">10</text>
</g>
<g font-family="Liberation Sans, Arial, sans-serif" font-size="29" fill="#111" stroke="#111" stroke-width="0.35">
<text x="216" y="59.8">Healthy</text>
<text x="544" y="60.5">Diseased</text>
<text x="1469.3" y="59.8">Healthy</text>
<text x="1765.1" y="60.3">Diseased</text>
</g>
<g font-family="Liberation Sans, Arial, sans-serif" font-size="44" font-weight="bold" fill="#000">
<text x="7.6" y="44.2">A</text>
<text x="1253" y="44.2">B</text>
</g>
</svg>
</body></html>
